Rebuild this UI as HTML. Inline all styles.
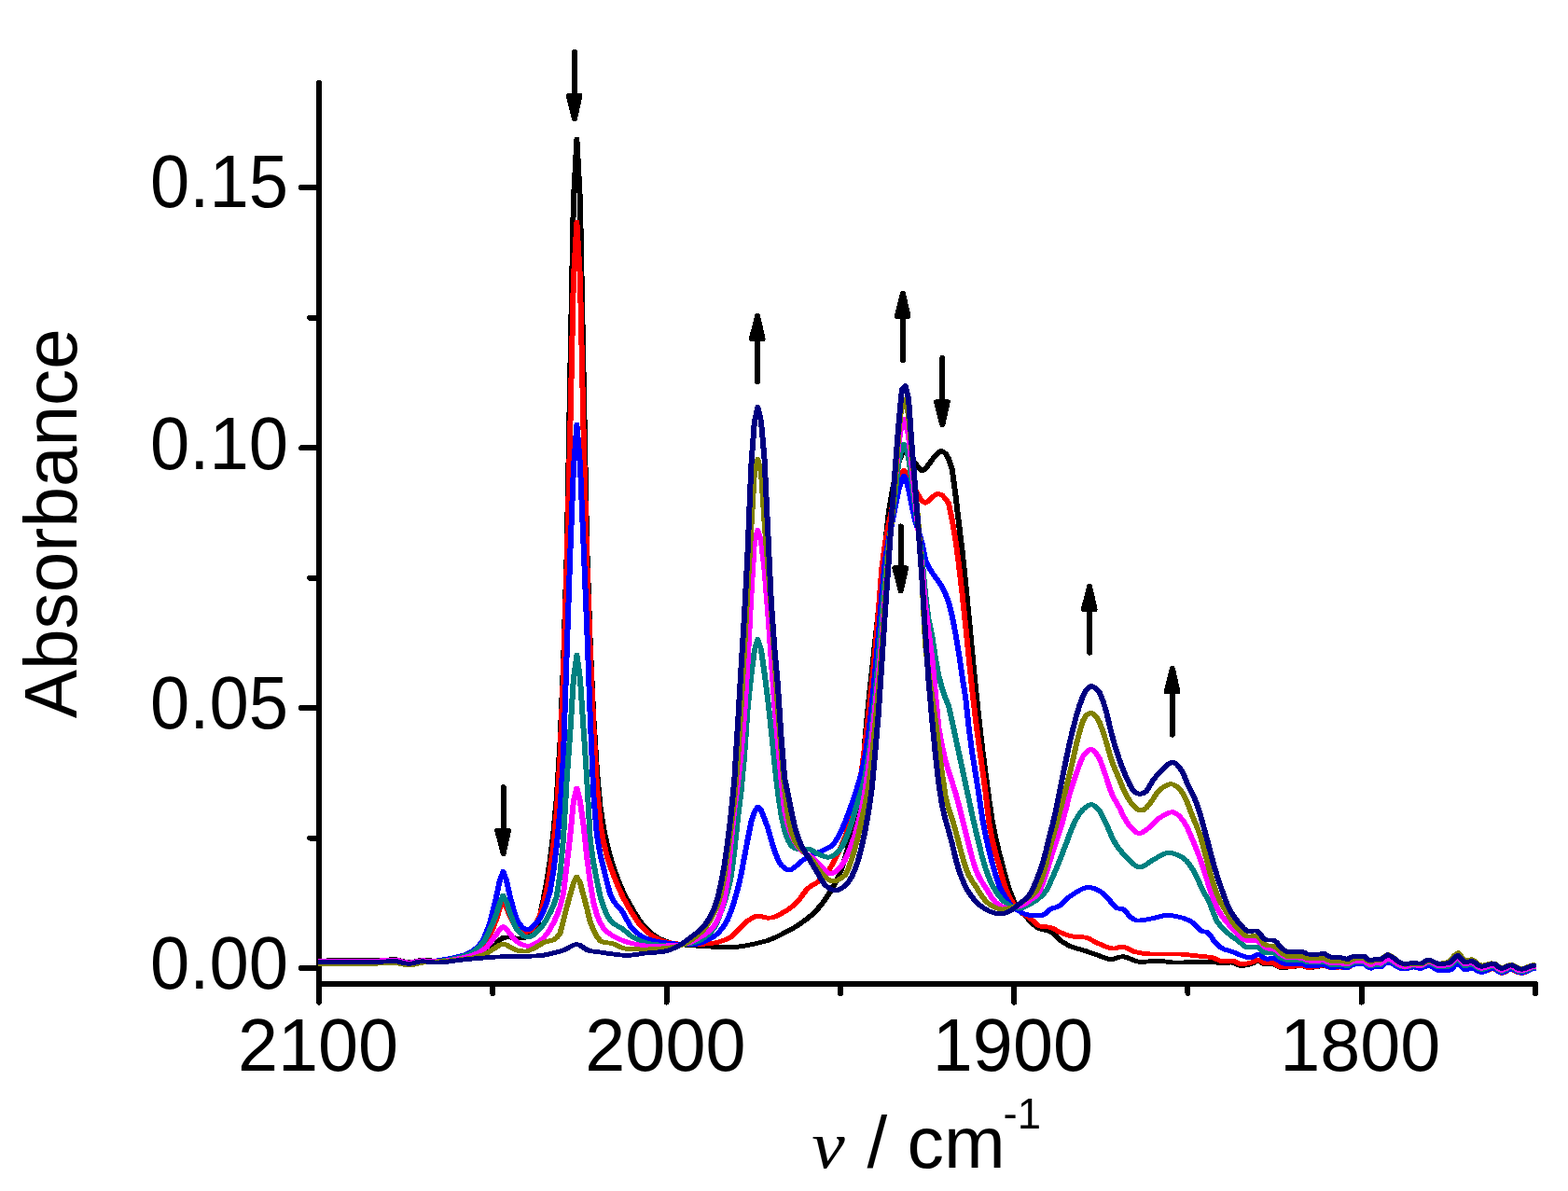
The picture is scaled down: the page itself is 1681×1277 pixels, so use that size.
<!DOCTYPE html>
<html lang="en"><head><meta charset="utf-8"><title>IR spectra</title>
<style>
html,body{margin:0;padding:0;background:#fff;}
svg{display:block;}
text{font-family:"Liberation Sans",Arial,Helvetica,sans-serif;fill:#000;}
.nu{font-family:"Liberation Serif","Times New Roman",serif;font-style:italic;}
</style></head>
<body>
<svg width="1681" height="1277" viewBox="0 0 1681 1277" shape-rendering="crispEdges">
<rect width="1681" height="1277" fill="#fff"/>
<g stroke="#000" stroke-width="6" stroke-linecap="round" fill="none">
<line x1="342" y1="89" x2="342" y2="1074.6"/>
<line x1="342" y1="1055" x2="1646" y2="1055"/>
<line x1="323" y1="1038" x2="342" y2="1038"/>
<line x1="323" y1="759" x2="342" y2="759"/>
<line x1="323" y1="480.4" x2="342" y2="480.4"/>
<line x1="323" y1="201.2" x2="342" y2="201.2"/>
<line x1="332.3" y1="898.5" x2="342" y2="898.5"/>
<line x1="332.3" y1="619.7" x2="342" y2="619.7"/>
<line x1="332.3" y1="340.8" x2="342" y2="340.8"/>
<line x1="714.6" y1="1055" x2="714.6" y2="1074.6"/>
<line x1="1087.1" y1="1055" x2="1087.1" y2="1074.6"/>
<line x1="1459.7" y1="1055" x2="1459.7" y2="1074.6"/>
<line x1="528.3" y1="1055" x2="528.3" y2="1065"/>
<line x1="900.9" y1="1055" x2="900.9" y2="1065"/>
<line x1="1273.4" y1="1055" x2="1273.4" y2="1065"/>
<line x1="1646" y1="1055" x2="1646" y2="1065"/>
</g>
<g fill="none" stroke-width="4.7" stroke-linejoin="round" stroke-linecap="butt">
<g stroke="#000000"><path d="M341.4,1029.9 L344.7,1029.9 L348.3,1029.9 L351.9,1029.8 L355.5,1029.8 L359.1,1029.8 L362.7,1029.8 L366.3,1029.8 L369.9,1029.7 L373.5,1029.7 L377.1,1029.7 L380.6,1029.7 L384.2,1029.7 L387.8,1029.7 L391.4,1029.7 L395.0,1029.7 L398.6,1029.6 L402.2,1029.6 L405.8,1029.6 L409.4,1029.6 L413.0,1029.3 L416.6,1028.9 L420.2,1028.6 L423.8,1028.8 L427.3,1029.6 L430.9,1030.6 L434.5,1031.5 L438.1,1031.9 L441.7,1031.5 L445.3,1030.6 L448.9,1029.8 L452.5,1029.5 L456.1,1029.6 L459.7,1029.8 L463.3,1029.9 L466.9,1030.0 L470.5,1030.0 L474.1,1029.8 L477.6,1029.6 L481.2,1029.3 L484.8,1028.9 L488.4,1028.5 L492.0,1028.0 L495.6,1027.5 L499.2,1027.0 L502.8,1026.4 L506.4,1025.6 L510.0,1024.5 L513.6,1023.3 L517.2,1021.9 L520.8,1020.3 L524.3,1017.9 L527.9,1015.1 L531.5,1011.9 L535.1,1007.8 L538.7,1005.5 L542.3,1005.1 L545.9,1005.0 L549.5,1005.6 L553.1,1006.0 L556.7,1006.0 L560.3,1005.9 L563.9,1004.4 L567.5,1001.9 L571.0,999.1 L574.6,994.5 L578.2,982.8 L581.8,965.2 L585.4,946.2 L589.0,923.1 L592.6,894.0 L596.2,854.9 L599.8,797.6 L603.4,711.8 L607.0,595.4 L610.6,402.0 L614.2,215.8 L617.8,149.0 L621.3,215.8 L624.9,400.7 L628.5,585.2 L632.1,690.9 L635.7,770.3 L639.3,826.9 L642.9,865.3 L646.5,888.4 L650.1,905.4 L653.7,919.2 L657.3,930.7 L660.9,940.7 L664.5,949.8 L668.0,957.6 L671.6,964.6 L675.2,971.0 L678.8,977.1 L682.4,983.0 L686.0,988.5 L689.6,993.0 L693.2,996.8 L696.8,1000.0 L700.4,1002.8 L704.0,1005.1 L707.6,1006.9 L711.2,1008.5 L714.7,1009.8 L718.3,1010.8 L721.9,1011.5 L725.5,1012.0 L729.1,1012.5 L732.7,1013.0 L736.3,1013.4 L739.9,1013.7 L743.5,1014.0 L747.1,1014.2 L750.7,1014.5 L754.3,1014.7 L757.9,1014.9 L761.4,1015.1 L765.0,1015.3 L768.6,1015.4 L772.2,1015.6 L775.8,1015.7 L779.4,1015.7 L783.0,1015.7 L786.6,1015.5 L790.2,1015.2 L793.8,1014.7 L797.4,1014.2 L801.0,1013.5 L804.6,1012.8 L808.2,1012.0 L811.7,1011.2 L815.3,1010.3 L818.9,1009.4 L822.5,1008.4 L826.1,1007.0 L829.7,1005.5 L833.3,1003.8 L836.9,1002.0 L840.5,1000.1 L844.1,998.3 L847.7,996.3 L851.3,994.2 L854.9,992.0 L858.4,989.6 L862.0,987.1 L865.6,984.3 L869.2,981.3 L872.8,977.9 L876.4,974.1 L880.0,969.8 L883.6,965.0 L887.2,959.7 L890.8,953.8 L894.4,947.2 L898.0,940.1 L901.6,931.8 L905.1,921.0 L908.7,908.0 L912.3,894.3 L915.9,879.4 L919.5,864.0 L923.1,841.1 L926.7,793.9 L930.3,755.0 L933.9,721.6 L937.5,688.8 L941.1,655.4 L944.7,621.7 L948.3,584.4 L951.9,551.8 L955.4,529.3 L959.0,511.4 L962.6,496.5 L966.2,486.4 L968.4,483.5 L969.8,484.6 L973.4,489.1 L977.0,492.9 L980.6,496.8 L984.2,501.8 L987.8,505.0 L991.4,502.9 L995.0,498.0 L998.6,492.9 L1002.1,488.8 L1005.7,484.8 L1008.6,483.5 L1012.9,486.2 L1016.5,492.2 L1020.1,503.6 L1023.7,530.1 L1027.3,561.0 L1030.9,590.4 L1034.5,625.2 L1038.1,662.4 L1041.7,700.7 L1045.3,737.9 L1048.8,771.8 L1052.4,802.1 L1056.0,830.2 L1059.6,856.9 L1063.2,881.5 L1066.8,899.2 L1070.4,914.1 L1074.0,927.8 L1077.6,941.4 L1081.2,953.3 L1084.8,962.9 L1088.4,970.4 L1092.0,975.5 L1095.6,979.3 L1099.1,982.7 L1102.7,986.4 L1106.3,990.2 L1109.9,993.5 L1113.5,995.6 L1117.1,996.7 L1120.7,997.4 L1124.3,998.3 L1127.9,1000.4 L1131.5,1004.0 L1135.1,1007.5 L1138.7,1010.1 L1142.3,1012.2 L1145.8,1014.1 L1149.4,1015.6 L1153.0,1016.7 L1156.6,1017.7 L1160.2,1018.7 L1163.8,1019.8 L1167.4,1021.1 L1171.0,1022.4 L1174.6,1023.7 L1178.2,1024.9 L1181.8,1026.3 L1185.4,1027.6 L1189.0,1028.5 L1192.5,1028.4 L1196.1,1027.3 L1199.7,1026.1 L1203.3,1025.7 L1206.9,1026.5 L1210.5,1027.8 L1214.1,1029.3 L1217.7,1030.6 L1221.3,1031.4 L1224.9,1031.3 L1228.5,1031.1 L1232.1,1030.8 L1235.7,1030.5 L1239.3,1030.3 L1242.8,1030.4 L1246.4,1030.7 L1250.0,1031.2 L1253.6,1031.7 L1257.2,1032.0 L1260.8,1032.1 L1264.4,1032.0 L1268.0,1031.9 L1271.6,1031.8 L1275.2,1031.7 L1278.8,1031.6 L1282.4,1031.5 L1286.0,1031.5 L1289.5,1031.5 L1293.1,1031.5 L1296.7,1031.5 L1300.3,1031.5 L1303.9,1032.1 L1307.5,1032.8 L1311.1,1033.0 L1314.7,1032.6 L1318.3,1032.1 L1321.9,1032.2 L1325.5,1034.0 L1329.1,1035.5 L1332.7,1035.3 L1336.2,1034.6 L1339.8,1033.7 L1343.4,1032.4 L1347.0,1030.0 L1350.6,1030.5 L1354.2,1033.8 L1357.8,1033.9 L1361.4,1033.6 L1365.0,1033.5 L1368.6,1036.0 L1372.2,1037.5 L1375.8,1037.4 L1379.4,1037.2 L1383.0,1036.9 L1386.5,1036.4 L1390.1,1035.9 L1393.7,1035.6 L1397.3,1036.1 L1400.9,1037.5 L1404.5,1037.5 L1408.1,1037.1 L1411.7,1036.6 L1415.3,1035.7 L1418.9,1034.8 L1422.5,1036.6 L1426.1,1037.9 L1429.7,1037.5 L1433.2,1037.1 L1436.8,1037.0 L1440.4,1037.4 L1444.0,1037.8 L1447.6,1035.3 L1451.2,1033.9 L1454.8,1033.5 L1458.4,1033.3 L1462.0,1033.2 L1465.6,1036.4 L1469.2,1037.7 L1472.8,1036.1 L1476.4,1036.0 L1479.9,1036.2 L1483.5,1033.0 L1487.1,1030.8 L1490.7,1032.1 L1494.3,1034.0 L1497.9,1036.5 L1501.5,1038.0 L1505.1,1038.5 L1508.7,1038.2 L1512.3,1036.9 L1515.9,1036.7 L1519.5,1037.6 L1523.1,1037.6 L1526.7,1035.9 L1530.2,1034.4 L1533.8,1035.2 L1537.4,1037.5 L1541.0,1039.3 L1544.6,1039.5 L1548.2,1039.4 L1551.8,1039.4 L1555.4,1037.9 L1559.0,1033.8 L1562.6,1031.7 L1566.2,1035.5 L1569.8,1038.9 L1573.4,1038.0 L1576.9,1036.9 L1580.5,1038.2 L1584.1,1041.0 L1587.7,1042.2 L1591.3,1041.2 L1594.9,1039.6 L1598.5,1038.4 L1602.1,1038.7 L1605.7,1041.5 L1609.3,1043.1 L1612.9,1041.7 L1616.5,1039.6 L1620.1,1038.9 L1623.6,1040.4 L1627.2,1042.4 L1630.8,1043.0 L1634.4,1042.0 L1638.0,1040.3 L1641.6,1038.7 L1645.3,1038.0"/><path d="M342.6,1029.9 L346.0,1029.9 L349.6,1029.9 L353.2,1029.8 L356.8,1029.8 L360.4,1029.8 L364.0,1029.8 L367.6,1029.8 L371.2,1029.7 L374.8,1029.7 L378.4,1029.7 L381.9,1029.7 L385.5,1029.7 L389.1,1029.7 L392.7,1029.7 L396.3,1029.7 L399.9,1029.6 L403.5,1029.6 L407.1,1029.6 L410.7,1029.6 L414.3,1029.3 L417.9,1028.9 L421.5,1028.6 L425.1,1028.8 L428.6,1029.6 L432.2,1030.6 L435.8,1031.5 L439.4,1031.9 L443.0,1031.5 L446.6,1030.6 L450.2,1029.8 L453.8,1029.5 L457.4,1029.6 L461.0,1029.8 L464.6,1029.9 L468.2,1030.0 L471.8,1030.0 L475.3,1029.8 L478.9,1029.6 L482.5,1029.3 L486.1,1028.9 L489.7,1028.5 L493.3,1028.0 L496.9,1027.5 L500.5,1027.0 L504.1,1026.4 L507.7,1025.6 L511.3,1024.5 L514.9,1023.3 L518.5,1021.9 L522.1,1020.3 L525.6,1017.9 L529.2,1015.1 L532.8,1011.9 L536.4,1007.8 L540.0,1005.5 L543.6,1005.1 L547.2,1005.0 L550.8,1005.6 L554.4,1006.0 L558.0,1006.0 L561.6,1005.9 L565.2,1004.4 L568.8,1001.9 L572.3,999.1 L575.9,994.5 L579.5,982.8 L583.1,965.2 L586.7,946.2 L590.3,923.1 L593.9,894.0 L597.5,854.9 L601.1,797.6 L604.7,711.8 L608.3,595.4 L611.9,402.0 L615.5,215.8 L619.0,149.0 L622.6,215.8 L626.2,400.7 L629.8,585.2 L633.4,690.9 L637.0,770.3 L640.6,826.9 L644.2,865.3 L647.8,888.4 L651.4,905.4 L655.0,919.2 L658.6,930.7 L662.2,940.7 L665.8,949.8 L669.3,957.6 L672.9,964.6 L676.5,971.0 L680.1,977.1 L683.7,983.0 L687.3,988.5 L690.9,993.0 L694.5,996.8 L698.1,1000.0 L701.7,1002.8 L705.3,1005.1 L708.9,1006.9 L712.5,1008.5 L716.0,1009.8 L719.6,1010.8 L723.2,1011.5 L726.8,1012.0 L730.4,1012.5 L734.0,1013.0 L737.6,1013.4 L741.2,1013.7 L744.8,1014.0 L748.4,1014.2 L752.0,1014.5 L755.6,1014.7 L759.2,1014.9 L762.7,1015.1 L766.3,1015.3 L769.9,1015.4 L773.5,1015.6 L777.1,1015.7 L780.7,1015.7 L784.3,1015.7 L787.9,1015.5 L791.5,1015.2 L795.1,1014.7 L798.7,1014.2 L802.3,1013.5 L805.9,1012.8 L809.5,1012.0 L813.0,1011.2 L816.6,1010.3 L820.2,1009.4 L823.8,1008.4 L827.4,1007.0 L831.0,1005.5 L834.6,1003.8 L838.2,1002.0 L841.8,1000.1 L845.4,998.3 L849.0,996.3 L852.6,994.2 L856.2,992.0 L859.7,989.6 L863.3,987.1 L866.9,984.3 L870.5,981.3 L874.1,977.9 L877.7,974.1 L881.3,969.8 L884.9,965.0 L888.5,959.7 L892.1,953.8 L895.7,947.2 L899.3,940.1 L902.9,931.8 L906.4,921.0 L910.0,908.0 L913.6,894.3 L917.2,879.4 L920.8,864.0 L924.4,841.1 L928.0,793.9 L931.6,755.0 L935.2,721.6 L938.8,688.8 L942.4,655.4 L946.0,621.7 L949.6,584.4 L953.2,551.8 L956.7,529.3 L960.3,511.4 L963.9,496.5 L967.5,486.4 L969.6,483.5 L971.1,484.6 L974.7,489.1 L978.3,492.9 L981.9,496.8 L985.5,501.8 L989.1,505.0 L992.7,502.9 L996.3,498.0 L999.9,492.9 L1003.4,488.8 L1007.0,484.8 L1009.9,483.5 L1014.2,486.2 L1017.8,492.2 L1021.4,503.6 L1025.0,530.1 L1028.6,561.0 L1032.2,590.4 L1035.8,625.2 L1039.4,662.4 L1043.0,700.7 L1046.6,737.9 L1050.2,771.8 L1053.7,802.1 L1057.3,830.2 L1060.9,856.9 L1064.5,881.5 L1068.1,899.2 L1071.7,914.1 L1075.3,927.8 L1078.9,941.4 L1082.5,953.3 L1086.1,962.9 L1089.7,970.4 L1093.3,975.5 L1096.9,979.3 L1100.4,982.7 L1104.0,986.4 L1107.6,990.2 L1111.2,993.5 L1114.8,995.6 L1118.4,996.7 L1122.0,997.4 L1125.6,998.3 L1129.2,1000.4 L1132.8,1004.0 L1136.4,1007.5 L1140.0,1010.1 L1143.6,1012.2 L1147.1,1014.1 L1150.7,1015.6 L1154.3,1016.7 L1157.9,1017.7 L1161.5,1018.7 L1165.1,1019.8 L1168.7,1021.1 L1172.3,1022.4 L1175.9,1023.7 L1179.5,1024.9 L1183.1,1026.3 L1186.7,1027.6 L1190.3,1028.5 L1193.8,1028.4 L1197.4,1027.3 L1201.0,1026.1 L1204.6,1025.7 L1208.2,1026.5 L1211.8,1027.8 L1215.4,1029.3 L1219.0,1030.6 L1222.6,1031.4 L1226.2,1031.3 L1229.8,1031.1 L1233.4,1030.8 L1237.0,1030.5 L1240.6,1030.3 L1244.1,1030.4 L1247.7,1030.7 L1251.3,1031.2 L1254.9,1031.7 L1258.5,1032.0 L1262.1,1032.1 L1265.7,1032.0 L1269.3,1031.9 L1272.9,1031.8 L1276.5,1031.7 L1280.1,1031.6 L1283.7,1031.5 L1287.3,1031.5 L1290.8,1031.5 L1294.4,1031.5 L1298.0,1031.5 L1301.6,1031.5 L1305.2,1032.1 L1308.8,1032.8 L1312.4,1033.0 L1316.0,1032.6 L1319.6,1032.1 L1323.2,1032.2 L1326.8,1034.0 L1330.4,1035.5 L1334.0,1035.3 L1337.6,1034.6 L1341.1,1033.7 L1344.7,1032.4 L1348.3,1030.0 L1351.9,1030.5 L1355.5,1033.8 L1359.1,1033.9 L1362.7,1033.6 L1366.3,1033.5 L1369.9,1036.0 L1373.5,1037.5 L1377.1,1037.4 L1380.7,1037.2 L1384.3,1036.9 L1387.8,1036.4 L1391.4,1035.9 L1395.0,1035.6 L1398.6,1036.1 L1402.2,1037.5 L1405.8,1037.5 L1409.4,1037.1 L1413.0,1036.6 L1416.6,1035.7 L1420.2,1034.8 L1423.8,1036.6 L1427.4,1037.9 L1431.0,1037.5 L1434.5,1037.1 L1438.1,1037.0 L1441.7,1037.4 L1445.3,1037.8 L1448.9,1035.3 L1452.5,1033.9 L1456.1,1033.5 L1459.7,1033.3 L1463.3,1033.2 L1466.9,1036.4 L1470.5,1037.7 L1474.1,1036.1 L1477.7,1036.0 L1481.2,1036.2 L1484.8,1033.0 L1488.4,1030.8 L1492.0,1032.1 L1495.6,1034.0 L1499.2,1036.5 L1502.8,1038.0 L1506.4,1038.5 L1510.0,1038.2 L1513.6,1036.9 L1517.2,1036.7 L1520.8,1037.6 L1524.4,1037.6 L1528.0,1035.9 L1531.5,1034.4 L1535.1,1035.2 L1538.7,1037.5 L1542.3,1039.3 L1545.9,1039.5 L1549.5,1039.4 L1553.1,1039.4 L1556.7,1037.9 L1560.3,1033.8 L1563.9,1031.7 L1567.5,1035.5 L1571.1,1038.9 L1574.7,1038.0 L1578.2,1036.9 L1581.8,1038.2 L1585.4,1041.0 L1589.0,1042.2 L1592.6,1041.2 L1596.2,1039.6 L1599.8,1038.4 L1603.4,1038.7 L1607.0,1041.5 L1610.6,1043.1 L1614.2,1041.7 L1617.8,1039.6 L1621.4,1038.9 L1625.0,1040.4 L1628.5,1042.4 L1632.1,1043.0 L1635.7,1042.0 L1639.3,1040.3 L1642.9,1038.7 L1646.7,1038.0"/></g>
<g stroke="#ff0000"><path d="M341.4,1033.2 L344.7,1033.2 L348.3,1033.2 L351.9,1033.2 L355.5,1033.2 L359.1,1033.1 L362.7,1033.1 L366.3,1033.1 L369.9,1033.1 L373.5,1033.0 L377.1,1033.0 L380.6,1033.0 L384.2,1033.0 L387.8,1032.9 L391.4,1032.9 L395.0,1032.8 L398.6,1032.8 L402.2,1032.7 L405.8,1032.6 L409.4,1032.5 L413.0,1032.4 L416.6,1032.1 L420.2,1031.9 L423.8,1032.1 L427.3,1032.7 L430.9,1033.5 L434.5,1034.2 L438.1,1034.5 L441.7,1034.1 L445.3,1033.2 L448.9,1032.3 L452.5,1031.7 L456.1,1031.4 L459.7,1031.1 L463.3,1030.9 L466.9,1030.6 L470.5,1030.2 L474.1,1029.7 L477.6,1029.3 L481.2,1028.8 L484.8,1028.2 L488.4,1027.6 L492.0,1026.8 L495.6,1026.0 L499.2,1025.0 L502.8,1023.8 L506.4,1022.1 L510.0,1020.0 L513.6,1017.3 L517.2,1014.2 L520.8,1010.2 L524.3,1003.5 L527.9,995.2 L531.5,985.8 L535.1,974.0 L538.8,968.0 L542.3,972.9 L545.9,982.1 L549.5,988.6 L553.1,993.9 L556.7,996.8 L560.3,998.5 L563.9,999.3 L567.5,998.1 L571.0,994.5 L574.6,989.6 L578.2,981.7 L581.8,969.9 L585.4,955.3 L589.0,934.6 L592.6,907.1 L596.2,869.3 L599.8,812.6 L603.4,721.3 L607.0,606.0 L610.6,463.2 L614.2,298.8 L617.8,238.0 L621.3,298.8 L624.9,462.3 L628.5,599.3 L632.1,698.0 L635.7,778.8 L639.3,842.1 L642.9,883.6 L646.5,903.2 L650.1,917.8 L653.7,929.1 L657.3,938.6 L660.9,947.9 L664.5,956.2 L668.0,963.4 L671.6,970.0 L675.2,976.2 L678.8,982.1 L682.4,987.6 L686.0,992.3 L689.6,996.1 L693.2,999.4 L696.8,1002.3 L700.4,1004.7 L704.0,1006.5 L707.6,1008.0 L711.2,1009.2 L714.7,1010.2 L718.3,1010.8 L721.9,1011.4 L725.5,1011.9 L729.1,1012.4 L732.7,1012.7 L736.3,1012.9 L739.9,1013.0 L743.5,1012.9 L747.1,1012.8 L750.7,1012.5 L754.3,1012.2 L757.9,1011.9 L761.4,1011.5 L765.0,1011.0 L768.6,1010.3 L772.2,1009.3 L775.8,1008.0 L779.4,1006.5 L783.0,1004.7 L786.6,1001.5 L790.2,997.7 L793.8,993.9 L797.4,990.3 L801.0,987.2 L804.6,985.0 L808.2,983.0 L811.7,982.1 L815.3,982.6 L818.9,983.5 L822.5,984.2 L826.1,984.1 L829.7,983.1 L833.3,981.5 L836.9,979.6 L840.5,977.4 L844.1,975.3 L847.7,972.6 L851.3,969.5 L854.9,966.0 L858.4,961.8 L862.0,956.5 L865.6,952.4 L869.2,949.8 L872.8,947.8 L876.4,945.5 L880.0,942.4 L883.6,938.6 L887.2,934.0 L890.8,928.3 L894.4,921.3 L898.0,914.1 L901.6,906.8 L905.1,898.3 L908.7,887.5 L912.3,874.8 L915.9,861.8 L919.5,847.4 L923.1,826.7 L926.7,798.2 L930.3,767.6 L933.9,735.0 L937.5,699.2 L941.1,655.6 L944.7,609.8 L948.3,582.6 L951.9,563.0 L955.4,546.7 L959.0,532.1 L962.6,519.5 L966.2,508.2 L968.4,504.0 L969.8,505.9 L973.4,513.6 L977.0,519.7 L980.6,525.4 L984.2,531.7 L987.8,537.4 L991.4,539.2 L995.0,537.2 L998.6,533.6 L1002.1,530.4 L1005.1,529.3 L1009.3,530.9 L1012.9,534.6 L1016.5,540.1 L1020.1,557.7 L1023.7,578.6 L1027.3,605.6 L1030.9,636.7 L1034.5,670.8 L1038.1,706.0 L1041.7,740.4 L1045.3,771.7 L1048.8,798.5 L1052.4,823.4 L1056.0,850.0 L1059.6,881.8 L1063.2,900.9 L1066.8,915.2 L1070.4,927.7 L1074.0,941.2 L1077.6,952.9 L1081.2,961.2 L1084.8,967.8 L1088.4,972.9 L1092.0,976.5 L1095.6,979.3 L1099.1,981.7 L1102.7,984.0 L1106.3,986.8 L1109.9,990.5 L1113.5,992.9 L1117.1,993.4 L1120.7,993.7 L1124.3,994.2 L1127.9,995.3 L1131.5,997.3 L1135.1,999.4 L1138.7,1000.8 L1142.3,1002.2 L1145.8,1003.3 L1149.4,1004.1 L1153.0,1004.5 L1156.6,1004.6 L1160.2,1004.8 L1163.8,1005.3 L1167.4,1006.7 L1171.0,1008.6 L1174.6,1010.6 L1178.2,1012.1 L1181.8,1013.7 L1185.4,1015.2 L1189.0,1016.4 L1192.5,1017.1 L1196.1,1016.7 L1199.7,1015.4 L1203.3,1015.1 L1206.9,1016.2 L1210.5,1018.1 L1214.1,1020.0 L1217.7,1020.9 L1221.3,1021.6 L1224.9,1022.2 L1228.5,1022.6 L1232.1,1022.9 L1235.7,1022.9 L1239.3,1022.9 L1242.8,1022.9 L1246.4,1022.9 L1250.0,1022.9 L1253.6,1022.9 L1257.2,1022.9 L1260.8,1022.9 L1264.4,1023.0 L1268.0,1023.3 L1271.6,1023.6 L1275.2,1024.0 L1278.8,1024.4 L1282.4,1024.8 L1286.0,1025.2 L1289.5,1025.5 L1293.1,1025.9 L1296.7,1026.4 L1300.3,1027.1 L1303.9,1028.7 L1307.5,1030.2 L1311.1,1030.7 L1314.7,1030.5 L1318.3,1030.2 L1321.9,1030.3 L1325.5,1032.3 L1329.1,1033.9 L1332.7,1033.7 L1336.2,1033.1 L1339.8,1032.3 L1343.4,1031.2 L1347.0,1028.9 L1350.6,1029.5 L1354.2,1032.6 L1357.8,1032.8 L1361.4,1032.8 L1365.0,1032.8 L1368.6,1035.4 L1372.2,1037.0 L1375.8,1037.0 L1379.4,1036.9 L1383.0,1036.6 L1386.5,1036.1 L1390.1,1035.6 L1393.7,1035.3 L1397.3,1035.8 L1400.9,1037.3 L1404.5,1037.3 L1408.1,1036.9 L1411.7,1036.4 L1415.3,1035.5 L1418.9,1034.6 L1422.5,1036.5 L1426.1,1037.8 L1429.7,1037.5 L1433.2,1037.2 L1436.8,1037.1 L1440.4,1037.5 L1444.0,1038.0 L1447.6,1035.5 L1451.2,1034.1 L1454.8,1033.8 L1458.4,1033.6 L1462.0,1033.5 L1465.6,1036.7 L1469.2,1038.1 L1472.8,1036.6 L1476.4,1036.4 L1479.9,1036.7 L1483.5,1033.5 L1487.1,1031.3 L1490.7,1032.6 L1494.3,1034.4 L1497.9,1036.9 L1501.5,1038.3 L1505.1,1038.8 L1508.7,1038.4 L1512.3,1037.1 L1515.9,1037.0 L1519.5,1037.9 L1523.1,1038.0 L1526.7,1036.3 L1530.2,1034.9 L1533.8,1035.7 L1537.4,1038.0 L1541.0,1039.8 L1544.6,1040.0 L1548.2,1039.9 L1551.8,1039.9 L1555.4,1038.4 L1559.0,1034.3 L1562.6,1032.2 L1566.2,1036.0 L1569.8,1039.4 L1573.4,1038.5 L1576.9,1037.4 L1580.5,1038.7 L1584.1,1041.5 L1587.7,1042.7 L1591.3,1041.7 L1594.9,1040.1 L1598.5,1038.9 L1602.1,1039.2 L1605.7,1042.0 L1609.3,1043.6 L1612.9,1042.2 L1616.5,1040.1 L1620.1,1039.4 L1623.6,1040.9 L1627.2,1042.9 L1630.8,1043.5 L1634.4,1042.5 L1638.0,1040.8 L1641.6,1039.2 L1645.3,1038.5"/><path d="M342.6,1033.2 L346.0,1033.2 L349.6,1033.2 L353.2,1033.2 L356.8,1033.2 L360.4,1033.1 L364.0,1033.1 L367.6,1033.1 L371.2,1033.1 L374.8,1033.0 L378.4,1033.0 L381.9,1033.0 L385.5,1033.0 L389.1,1032.9 L392.7,1032.9 L396.3,1032.8 L399.9,1032.8 L403.5,1032.7 L407.1,1032.6 L410.7,1032.5 L414.3,1032.4 L417.9,1032.1 L421.5,1031.9 L425.1,1032.1 L428.6,1032.7 L432.2,1033.5 L435.8,1034.2 L439.4,1034.5 L443.0,1034.1 L446.6,1033.2 L450.2,1032.3 L453.8,1031.7 L457.4,1031.4 L461.0,1031.1 L464.6,1030.9 L468.2,1030.6 L471.8,1030.2 L475.3,1029.7 L478.9,1029.3 L482.5,1028.8 L486.1,1028.2 L489.7,1027.6 L493.3,1026.8 L496.9,1026.0 L500.5,1025.0 L504.1,1023.8 L507.7,1022.1 L511.3,1020.0 L514.9,1017.3 L518.5,1014.2 L522.1,1010.2 L525.6,1003.5 L529.2,995.2 L532.8,985.8 L536.4,974.0 L540.0,968.0 L543.6,972.9 L547.2,982.1 L550.8,988.6 L554.4,993.9 L558.0,996.8 L561.6,998.5 L565.2,999.3 L568.8,998.1 L572.3,994.5 L575.9,989.6 L579.5,981.7 L583.1,969.9 L586.7,955.3 L590.3,934.6 L593.9,907.1 L597.5,869.3 L601.1,812.6 L604.7,721.3 L608.3,606.0 L611.9,463.2 L615.5,298.8 L619.0,238.0 L622.6,298.8 L626.2,462.3 L629.8,599.3 L633.4,698.0 L637.0,778.8 L640.6,842.1 L644.2,883.6 L647.8,903.2 L651.4,917.8 L655.0,929.1 L658.6,938.6 L662.2,947.9 L665.8,956.2 L669.3,963.4 L672.9,970.0 L676.5,976.2 L680.1,982.1 L683.7,987.6 L687.3,992.3 L690.9,996.1 L694.5,999.4 L698.1,1002.3 L701.7,1004.7 L705.3,1006.5 L708.9,1008.0 L712.5,1009.2 L716.0,1010.2 L719.6,1010.8 L723.2,1011.4 L726.8,1011.9 L730.4,1012.4 L734.0,1012.7 L737.6,1012.9 L741.2,1013.0 L744.8,1012.9 L748.4,1012.8 L752.0,1012.5 L755.6,1012.2 L759.2,1011.9 L762.7,1011.5 L766.3,1011.0 L769.9,1010.3 L773.5,1009.3 L777.1,1008.0 L780.7,1006.5 L784.3,1004.7 L787.9,1001.5 L791.5,997.7 L795.1,993.9 L798.7,990.3 L802.3,987.2 L805.9,985.0 L809.5,983.0 L813.0,982.1 L816.6,982.6 L820.2,983.5 L823.8,984.2 L827.4,984.1 L831.0,983.1 L834.6,981.5 L838.2,979.6 L841.8,977.4 L845.4,975.3 L849.0,972.6 L852.6,969.5 L856.2,966.0 L859.7,961.8 L863.3,956.5 L866.9,952.4 L870.5,949.8 L874.1,947.8 L877.7,945.5 L881.3,942.4 L884.9,938.6 L888.5,934.0 L892.1,928.3 L895.7,921.3 L899.3,914.1 L902.9,906.8 L906.4,898.3 L910.0,887.5 L913.6,874.8 L917.2,861.8 L920.8,847.4 L924.4,826.7 L928.0,798.2 L931.6,767.6 L935.2,735.0 L938.8,699.2 L942.4,655.6 L946.0,609.8 L949.6,582.6 L953.2,563.0 L956.7,546.7 L960.3,532.1 L963.9,519.5 L967.5,508.2 L969.6,504.0 L971.1,505.9 L974.7,513.6 L978.3,519.7 L981.9,525.4 L985.5,531.7 L989.1,537.4 L992.7,539.2 L996.3,537.2 L999.9,533.6 L1003.4,530.4 L1006.4,529.3 L1010.6,530.9 L1014.2,534.6 L1017.8,540.1 L1021.4,557.7 L1025.0,578.6 L1028.6,605.6 L1032.2,636.7 L1035.8,670.8 L1039.4,706.0 L1043.0,740.4 L1046.6,771.7 L1050.2,798.5 L1053.7,823.4 L1057.3,850.0 L1060.9,881.8 L1064.5,900.9 L1068.1,915.2 L1071.7,927.7 L1075.3,941.2 L1078.9,952.9 L1082.5,961.2 L1086.1,967.8 L1089.7,972.9 L1093.3,976.5 L1096.9,979.3 L1100.4,981.7 L1104.0,984.0 L1107.6,986.8 L1111.2,990.5 L1114.8,992.9 L1118.4,993.4 L1122.0,993.7 L1125.6,994.2 L1129.2,995.3 L1132.8,997.3 L1136.4,999.4 L1140.0,1000.8 L1143.6,1002.2 L1147.1,1003.3 L1150.7,1004.1 L1154.3,1004.5 L1157.9,1004.6 L1161.5,1004.8 L1165.1,1005.3 L1168.7,1006.7 L1172.3,1008.6 L1175.9,1010.6 L1179.5,1012.1 L1183.1,1013.7 L1186.7,1015.2 L1190.3,1016.4 L1193.8,1017.1 L1197.4,1016.7 L1201.0,1015.4 L1204.6,1015.1 L1208.2,1016.2 L1211.8,1018.1 L1215.4,1020.0 L1219.0,1020.9 L1222.6,1021.6 L1226.2,1022.2 L1229.8,1022.6 L1233.4,1022.9 L1237.0,1022.9 L1240.6,1022.9 L1244.1,1022.9 L1247.7,1022.9 L1251.3,1022.9 L1254.9,1022.9 L1258.5,1022.9 L1262.1,1022.9 L1265.7,1023.0 L1269.3,1023.3 L1272.9,1023.6 L1276.5,1024.0 L1280.1,1024.4 L1283.7,1024.8 L1287.3,1025.2 L1290.8,1025.5 L1294.4,1025.9 L1298.0,1026.4 L1301.6,1027.1 L1305.2,1028.7 L1308.8,1030.2 L1312.4,1030.7 L1316.0,1030.5 L1319.6,1030.2 L1323.2,1030.3 L1326.8,1032.3 L1330.4,1033.9 L1334.0,1033.7 L1337.6,1033.1 L1341.1,1032.3 L1344.7,1031.2 L1348.3,1028.9 L1351.9,1029.5 L1355.5,1032.6 L1359.1,1032.8 L1362.7,1032.8 L1366.3,1032.8 L1369.9,1035.4 L1373.5,1037.0 L1377.1,1037.0 L1380.7,1036.9 L1384.3,1036.6 L1387.8,1036.1 L1391.4,1035.6 L1395.0,1035.3 L1398.6,1035.8 L1402.2,1037.3 L1405.8,1037.3 L1409.4,1036.9 L1413.0,1036.4 L1416.6,1035.5 L1420.2,1034.6 L1423.8,1036.5 L1427.4,1037.8 L1431.0,1037.5 L1434.5,1037.2 L1438.1,1037.1 L1441.7,1037.5 L1445.3,1038.0 L1448.9,1035.5 L1452.5,1034.1 L1456.1,1033.8 L1459.7,1033.6 L1463.3,1033.5 L1466.9,1036.7 L1470.5,1038.1 L1474.1,1036.6 L1477.7,1036.4 L1481.2,1036.7 L1484.8,1033.5 L1488.4,1031.3 L1492.0,1032.6 L1495.6,1034.4 L1499.2,1036.9 L1502.8,1038.3 L1506.4,1038.8 L1510.0,1038.4 L1513.6,1037.1 L1517.2,1037.0 L1520.8,1037.9 L1524.4,1038.0 L1528.0,1036.3 L1531.5,1034.9 L1535.1,1035.7 L1538.7,1038.0 L1542.3,1039.8 L1545.9,1040.0 L1549.5,1039.9 L1553.1,1039.9 L1556.7,1038.4 L1560.3,1034.3 L1563.9,1032.2 L1567.5,1036.0 L1571.1,1039.4 L1574.7,1038.5 L1578.2,1037.4 L1581.8,1038.7 L1585.4,1041.5 L1589.0,1042.7 L1592.6,1041.7 L1596.2,1040.1 L1599.8,1038.9 L1603.4,1039.2 L1607.0,1042.0 L1610.6,1043.6 L1614.2,1042.2 L1617.8,1040.1 L1621.4,1039.4 L1625.0,1040.9 L1628.5,1042.9 L1632.1,1043.5 L1635.7,1042.5 L1639.3,1040.8 L1642.9,1039.2 L1646.7,1038.5"/></g>
<g stroke="#0000ff"><path d="M341.4,1033.5 L344.7,1033.5 L348.3,1033.5 L351.9,1033.5 L355.5,1033.5 L359.1,1033.4 L362.7,1033.4 L366.3,1033.4 L369.9,1033.4 L373.5,1033.3 L377.1,1033.3 L380.6,1033.3 L384.2,1033.3 L387.8,1033.2 L391.4,1033.2 L395.0,1033.1 L398.6,1033.1 L402.2,1033.0 L405.8,1032.9 L409.4,1032.8 L413.0,1032.6 L416.6,1032.4 L420.2,1032.2 L423.8,1032.4 L427.3,1033.0 L430.9,1033.8 L434.5,1034.4 L438.1,1034.7 L441.7,1034.4 L445.3,1033.5 L448.9,1032.6 L452.5,1031.9 L456.1,1031.4 L459.7,1031.0 L463.3,1030.6 L466.9,1030.1 L470.5,1029.5 L474.1,1028.9 L477.6,1028.4 L481.2,1027.7 L484.8,1027.0 L488.4,1026.2 L492.0,1025.3 L495.6,1024.3 L499.2,1023.1 L502.8,1021.5 L506.4,1019.3 L510.0,1016.4 L513.6,1012.9 L517.2,1007.8 L520.8,999.8 L524.3,990.0 L527.9,976.5 L531.5,961.3 L535.1,944.4 L538.8,934.5 L542.3,943.9 L545.9,960.4 L549.5,973.8 L553.1,985.5 L556.7,991.2 L560.3,995.1 L563.9,997.0 L567.5,996.1 L571.0,993.3 L574.6,989.7 L578.2,984.7 L581.8,977.6 L585.4,968.1 L589.0,955.8 L592.6,934.9 L596.2,906.4 L599.8,868.3 L603.4,808.9 L607.0,700.5 L610.6,594.9 L614.2,503.5 L617.8,455.0 L621.3,498.7 L624.9,584.1 L628.5,670.8 L632.1,769.3 L635.7,852.9 L639.3,896.0 L642.9,916.3 L646.5,931.0 L650.1,946.2 L653.7,959.6 L657.3,966.6 L660.9,970.8 L664.5,974.5 L668.0,979.7 L671.6,986.6 L675.2,992.9 L678.8,997.0 L682.4,1000.4 L686.0,1003.2 L689.6,1005.2 L693.2,1006.6 L696.8,1007.7 L700.4,1008.6 L704.0,1009.4 L707.6,1010.0 L711.2,1010.6 L714.7,1011.0 L718.3,1011.4 L721.9,1011.8 L725.5,1012.1 L729.1,1012.4 L732.7,1012.7 L736.3,1012.8 L739.9,1012.9 L743.5,1012.7 L747.1,1012.1 L750.7,1011.0 L754.3,1009.6 L757.9,1007.9 L761.4,1006.1 L765.0,1004.0 L768.6,1001.0 L772.2,997.1 L775.8,992.3 L779.4,986.0 L783.0,977.0 L786.6,966.0 L790.2,953.4 L793.8,938.0 L797.4,918.9 L801.0,899.9 L804.6,881.7 L808.2,870.5 L811.8,865.0 L815.3,868.8 L818.9,877.7 L822.5,887.7 L826.1,900.4 L829.7,912.4 L833.3,921.6 L836.9,927.6 L840.5,930.9 L844.1,932.8 L847.7,932.3 L851.3,929.9 L854.9,926.6 L858.4,923.5 L862.0,921.2 L865.6,919.0 L869.2,917.2 L872.8,915.6 L876.4,914.1 L880.0,912.5 L883.6,910.9 L887.2,909.3 L890.8,907.1 L894.4,903.0 L898.0,897.0 L901.6,890.0 L905.1,882.1 L908.7,872.6 L912.3,862.7 L915.9,852.3 L919.5,840.8 L923.1,828.2 L926.7,811.4 L930.3,787.9 L933.9,758.0 L937.5,720.9 L941.1,682.0 L944.7,637.7 L948.3,600.7 L951.9,578.8 L955.4,561.7 L959.0,543.6 L962.6,525.6 L966.2,513.8 L968.4,510.5 L969.8,512.4 L973.4,524.0 L977.0,542.9 L980.6,558.9 L984.2,570.0 L987.8,582.2 L991.4,600.1 L995.0,608.1 L998.6,613.9 L1002.1,618.8 L1005.7,623.6 L1009.3,629.4 L1012.9,636.6 L1016.5,645.9 L1020.1,660.7 L1023.7,679.0 L1027.3,700.3 L1030.9,725.4 L1034.5,747.7 L1038.1,781.0 L1041.7,807.9 L1045.3,830.2 L1048.8,852.1 L1052.4,877.0 L1056.0,895.8 L1059.6,911.7 L1063.2,925.6 L1066.8,938.2 L1070.4,949.2 L1074.0,956.4 L1077.6,962.6 L1081.2,967.9 L1084.8,972.1 L1088.4,975.1 L1092.0,977.1 L1095.6,979.0 L1099.1,980.4 L1102.7,981.2 L1106.3,981.4 L1109.9,981.4 L1113.5,981.4 L1117.1,981.3 L1120.7,979.1 L1124.3,975.7 L1127.9,973.8 L1131.5,972.8 L1135.1,971.4 L1138.7,968.5 L1142.3,964.9 L1145.8,961.5 L1149.4,959.1 L1153.0,956.8 L1156.6,954.6 L1160.2,952.8 L1163.8,951.7 L1167.4,951.4 L1171.0,952.2 L1174.6,953.5 L1178.2,955.2 L1181.8,958.1 L1185.4,961.7 L1189.0,965.4 L1192.5,970.1 L1196.1,973.5 L1199.7,974.3 L1203.3,974.9 L1206.9,978.2 L1210.5,982.7 L1214.1,985.2 L1217.7,986.9 L1221.3,987.0 L1224.9,986.6 L1228.5,986.0 L1232.1,985.3 L1235.7,984.6 L1239.3,983.7 L1242.8,982.7 L1246.4,981.8 L1250.0,981.4 L1253.6,981.5 L1257.2,982.0 L1260.8,982.7 L1264.4,983.5 L1268.0,984.4 L1271.6,985.8 L1275.2,987.5 L1278.8,989.6 L1282.4,993.1 L1286.0,997.4 L1289.5,998.8 L1293.1,999.2 L1296.7,1002.4 L1300.3,1008.1 L1303.9,1012.0 L1307.5,1015.4 L1311.1,1017.7 L1314.7,1018.8 L1318.3,1019.8 L1321.9,1020.9 L1325.5,1022.6 L1329.1,1024.1 L1332.7,1025.3 L1336.2,1026.4 L1339.8,1026.9 L1343.4,1025.6 L1347.0,1023.5 L1350.6,1023.9 L1354.2,1027.0 L1357.8,1028.5 L1361.4,1027.5 L1365.0,1026.9 L1368.6,1029.1 L1372.2,1031.4 L1375.8,1033.0 L1379.4,1033.9 L1383.0,1033.8 L1386.5,1033.6 L1390.1,1033.5 L1393.7,1033.3 L1397.3,1034.0 L1400.9,1035.8 L1404.5,1035.8 L1408.1,1035.7 L1411.7,1035.5 L1415.3,1034.9 L1418.9,1034.2 L1422.5,1036.1 L1426.1,1037.4 L1429.7,1037.2 L1433.2,1036.9 L1436.8,1036.8 L1440.4,1037.3 L1444.0,1037.8 L1447.6,1035.4 L1451.2,1034.1 L1454.8,1033.8 L1458.4,1033.6 L1462.0,1033.6 L1465.6,1036.8 L1469.2,1038.2 L1472.8,1036.7 L1476.4,1036.6 L1479.9,1036.9 L1483.5,1033.7 L1487.1,1031.6 L1490.7,1032.8 L1494.3,1034.6 L1497.9,1037.0 L1501.5,1038.4 L1505.1,1038.9 L1508.7,1038.5 L1512.3,1037.2 L1515.9,1037.1 L1519.5,1038.1 L1523.1,1038.3 L1526.7,1036.7 L1530.2,1035.4 L1533.8,1036.2 L1537.4,1038.6 L1541.0,1040.5 L1544.6,1040.7 L1548.2,1040.7 L1551.8,1040.7 L1555.4,1039.3 L1559.0,1035.2 L1562.6,1033.2 L1566.2,1036.8 L1569.8,1040.1 L1573.4,1039.1 L1576.9,1037.8 L1580.5,1039.0 L1584.1,1041.6 L1587.7,1042.7 L1591.3,1041.6 L1594.9,1039.8 L1598.5,1038.4 L1602.1,1038.7 L1605.7,1041.6 L1609.3,1043.2 L1612.9,1041.9 L1616.5,1039.8 L1620.1,1039.1 L1623.6,1040.6 L1627.2,1042.7 L1630.8,1043.3 L1634.4,1042.3 L1638.0,1040.7 L1641.6,1039.2 L1645.3,1038.5"/><path d="M342.6,1033.5 L346.0,1033.5 L349.6,1033.5 L353.2,1033.5 L356.8,1033.5 L360.4,1033.4 L364.0,1033.4 L367.6,1033.4 L371.2,1033.4 L374.8,1033.3 L378.4,1033.3 L381.9,1033.3 L385.5,1033.3 L389.1,1033.2 L392.7,1033.2 L396.3,1033.1 L399.9,1033.1 L403.5,1033.0 L407.1,1032.9 L410.7,1032.8 L414.3,1032.6 L417.9,1032.4 L421.5,1032.2 L425.1,1032.4 L428.6,1033.0 L432.2,1033.8 L435.8,1034.4 L439.4,1034.7 L443.0,1034.4 L446.6,1033.5 L450.2,1032.6 L453.8,1031.9 L457.4,1031.4 L461.0,1031.0 L464.6,1030.6 L468.2,1030.1 L471.8,1029.5 L475.3,1028.9 L478.9,1028.4 L482.5,1027.7 L486.1,1027.0 L489.7,1026.2 L493.3,1025.3 L496.9,1024.3 L500.5,1023.1 L504.1,1021.5 L507.7,1019.3 L511.3,1016.4 L514.9,1012.9 L518.5,1007.8 L522.1,999.8 L525.6,990.0 L529.2,976.5 L532.8,961.3 L536.4,944.4 L540.0,934.5 L543.6,943.9 L547.2,960.4 L550.8,973.8 L554.4,985.5 L558.0,991.2 L561.6,995.1 L565.2,997.0 L568.8,996.1 L572.3,993.3 L575.9,989.7 L579.5,984.7 L583.1,977.6 L586.7,968.1 L590.3,955.8 L593.9,934.9 L597.5,906.4 L601.1,868.3 L604.7,808.9 L608.3,700.5 L611.9,594.9 L615.5,503.5 L619.0,455.0 L622.6,498.7 L626.2,584.1 L629.8,670.8 L633.4,769.3 L637.0,852.9 L640.6,896.0 L644.2,916.3 L647.8,931.0 L651.4,946.2 L655.0,959.6 L658.6,966.6 L662.2,970.8 L665.8,974.5 L669.3,979.7 L672.9,986.6 L676.5,992.9 L680.1,997.0 L683.7,1000.4 L687.3,1003.2 L690.9,1005.2 L694.5,1006.6 L698.1,1007.7 L701.7,1008.6 L705.3,1009.4 L708.9,1010.0 L712.5,1010.6 L716.0,1011.0 L719.6,1011.4 L723.2,1011.8 L726.8,1012.1 L730.4,1012.4 L734.0,1012.7 L737.6,1012.8 L741.2,1012.9 L744.8,1012.7 L748.4,1012.1 L752.0,1011.0 L755.6,1009.6 L759.2,1007.9 L762.7,1006.1 L766.3,1004.0 L769.9,1001.0 L773.5,997.1 L777.1,992.3 L780.7,986.0 L784.3,977.0 L787.9,966.0 L791.5,953.4 L795.1,938.0 L798.7,918.9 L802.3,899.9 L805.9,881.7 L809.5,870.5 L813.0,865.0 L816.6,868.8 L820.2,877.7 L823.8,887.7 L827.4,900.4 L831.0,912.4 L834.6,921.6 L838.2,927.6 L841.8,930.9 L845.4,932.8 L849.0,932.3 L852.6,929.9 L856.2,926.6 L859.7,923.5 L863.3,921.2 L866.9,919.0 L870.5,917.2 L874.1,915.6 L877.7,914.1 L881.3,912.5 L884.9,910.9 L888.5,909.3 L892.1,907.1 L895.7,903.0 L899.3,897.0 L902.9,890.0 L906.4,882.1 L910.0,872.6 L913.6,862.7 L917.2,852.3 L920.8,840.8 L924.4,828.2 L928.0,811.4 L931.6,787.9 L935.2,758.0 L938.8,720.9 L942.4,682.0 L946.0,637.7 L949.6,600.7 L953.2,578.8 L956.7,561.7 L960.3,543.6 L963.9,525.6 L967.5,513.8 L969.6,510.5 L971.1,512.4 L974.7,524.0 L978.3,542.9 L981.9,558.9 L985.5,570.0 L989.1,582.2 L992.7,600.1 L996.3,608.1 L999.9,613.9 L1003.4,618.8 L1007.0,623.6 L1010.6,629.4 L1014.2,636.6 L1017.8,645.9 L1021.4,660.7 L1025.0,679.0 L1028.6,700.3 L1032.2,725.4 L1035.8,747.7 L1039.4,781.0 L1043.0,807.9 L1046.6,830.2 L1050.2,852.1 L1053.7,877.0 L1057.3,895.8 L1060.9,911.7 L1064.5,925.6 L1068.1,938.2 L1071.7,949.2 L1075.3,956.4 L1078.9,962.6 L1082.5,967.9 L1086.1,972.1 L1089.7,975.1 L1093.3,977.1 L1096.9,979.0 L1100.4,980.4 L1104.0,981.2 L1107.6,981.4 L1111.2,981.4 L1114.8,981.4 L1118.4,981.3 L1122.0,979.1 L1125.6,975.7 L1129.2,973.8 L1132.8,972.8 L1136.4,971.4 L1140.0,968.5 L1143.6,964.9 L1147.1,961.5 L1150.7,959.1 L1154.3,956.8 L1157.9,954.6 L1161.5,952.8 L1165.1,951.7 L1168.7,951.4 L1172.3,952.2 L1175.9,953.5 L1179.5,955.2 L1183.1,958.1 L1186.7,961.7 L1190.3,965.4 L1193.8,970.1 L1197.4,973.5 L1201.0,974.3 L1204.6,974.9 L1208.2,978.2 L1211.8,982.7 L1215.4,985.2 L1219.0,986.9 L1222.6,987.0 L1226.2,986.6 L1229.8,986.0 L1233.4,985.3 L1237.0,984.6 L1240.6,983.7 L1244.1,982.7 L1247.7,981.8 L1251.3,981.4 L1254.9,981.5 L1258.5,982.0 L1262.1,982.7 L1265.7,983.5 L1269.3,984.4 L1272.9,985.8 L1276.5,987.5 L1280.1,989.6 L1283.7,993.1 L1287.3,997.4 L1290.8,998.8 L1294.4,999.2 L1298.0,1002.4 L1301.6,1008.1 L1305.2,1012.0 L1308.8,1015.4 L1312.4,1017.7 L1316.0,1018.8 L1319.6,1019.8 L1323.2,1020.9 L1326.8,1022.6 L1330.4,1024.1 L1334.0,1025.3 L1337.6,1026.4 L1341.1,1026.9 L1344.7,1025.6 L1348.3,1023.5 L1351.9,1023.9 L1355.5,1027.0 L1359.1,1028.5 L1362.7,1027.5 L1366.3,1026.9 L1369.9,1029.1 L1373.5,1031.4 L1377.1,1033.0 L1380.7,1033.9 L1384.3,1033.8 L1387.8,1033.6 L1391.4,1033.5 L1395.0,1033.3 L1398.6,1034.0 L1402.2,1035.8 L1405.8,1035.8 L1409.4,1035.7 L1413.0,1035.5 L1416.6,1034.9 L1420.2,1034.2 L1423.8,1036.1 L1427.4,1037.4 L1431.0,1037.2 L1434.5,1036.9 L1438.1,1036.8 L1441.7,1037.3 L1445.3,1037.8 L1448.9,1035.4 L1452.5,1034.1 L1456.1,1033.8 L1459.7,1033.6 L1463.3,1033.6 L1466.9,1036.8 L1470.5,1038.2 L1474.1,1036.7 L1477.7,1036.6 L1481.2,1036.9 L1484.8,1033.7 L1488.4,1031.6 L1492.0,1032.8 L1495.6,1034.6 L1499.2,1037.0 L1502.8,1038.4 L1506.4,1038.9 L1510.0,1038.5 L1513.6,1037.2 L1517.2,1037.1 L1520.8,1038.1 L1524.4,1038.3 L1528.0,1036.7 L1531.5,1035.4 L1535.1,1036.2 L1538.7,1038.6 L1542.3,1040.5 L1545.9,1040.7 L1549.5,1040.7 L1553.1,1040.7 L1556.7,1039.3 L1560.3,1035.2 L1563.9,1033.2 L1567.5,1036.8 L1571.1,1040.1 L1574.7,1039.1 L1578.2,1037.8 L1581.8,1039.0 L1585.4,1041.6 L1589.0,1042.7 L1592.6,1041.6 L1596.2,1039.8 L1599.8,1038.4 L1603.4,1038.7 L1607.0,1041.6 L1610.6,1043.2 L1614.2,1041.9 L1617.8,1039.8 L1621.4,1039.1 L1625.0,1040.6 L1628.5,1042.7 L1632.1,1043.3 L1635.7,1042.3 L1639.3,1040.7 L1642.9,1039.2 L1646.7,1038.5"/></g>
<g stroke="#008080"><path d="M341.4,1031.1 L344.7,1031.1 L348.3,1031.1 L351.9,1031.1 L355.5,1031.0 L359.1,1031.0 L362.7,1031.0 L366.3,1031.0 L369.9,1031.0 L373.5,1030.9 L377.1,1030.9 L380.6,1030.9 L384.2,1030.9 L387.8,1030.9 L391.4,1030.8 L395.0,1030.8 L398.6,1030.8 L402.2,1030.8 L405.8,1030.7 L409.4,1030.7 L413.0,1030.4 L416.6,1030.1 L420.2,1029.8 L423.8,1030.0 L427.3,1030.7 L430.9,1031.6 L434.5,1032.5 L438.1,1032.8 L441.7,1032.4 L445.3,1031.5 L448.9,1030.6 L452.5,1030.4 L456.1,1030.3 L459.7,1030.3 L463.3,1030.3 L466.9,1030.3 L470.5,1030.2 L474.1,1029.9 L477.6,1029.5 L481.2,1028.8 L484.8,1028.1 L488.4,1027.2 L492.0,1026.3 L495.6,1025.2 L499.2,1024.0 L502.8,1022.6 L506.4,1020.6 L510.0,1018.0 L513.6,1014.8 L517.2,1011.0 L520.8,1004.9 L524.3,997.2 L527.9,989.1 L531.5,980.1 L535.1,968.5 L538.8,960.0 L542.3,966.9 L545.9,978.8 L549.5,988.2 L553.1,996.3 L556.7,1000.3 L560.3,1003.3 L563.9,1004.9 L567.5,1004.6 L571.0,1002.5 L574.6,999.5 L578.2,996.1 L581.8,991.5 L585.4,985.5 L589.0,978.7 L592.6,971.4 L596.2,961.0 L599.8,937.3 L603.4,898.2 L607.0,836.0 L610.6,785.9 L614.2,727.9 L617.8,702.0 L621.3,727.9 L624.9,781.1 L628.5,834.0 L632.1,901.6 L635.7,925.5 L639.3,944.4 L642.9,961.2 L646.5,972.5 L650.1,981.0 L653.7,987.0 L657.3,990.4 L660.9,992.6 L664.5,994.5 L668.0,996.9 L671.6,999.9 L675.2,1003.0 L678.8,1005.4 L682.4,1007.2 L686.0,1008.7 L689.6,1010.1 L693.2,1011.2 L696.8,1011.9 L700.4,1012.4 L704.0,1012.8 L707.6,1013.1 L711.2,1013.3 L714.7,1013.5 L718.3,1013.6 L721.9,1013.6 L725.5,1013.4 L729.1,1013.1 L732.7,1012.6 L736.3,1012.1 L739.9,1011.5 L743.5,1010.8 L747.1,1009.5 L750.7,1007.7 L754.3,1005.4 L757.9,1002.6 L761.4,999.4 L765.0,994.8 L768.6,987.5 L772.2,978.1 L775.8,967.6 L779.4,956.0 L783.0,940.6 L786.6,913.6 L790.2,878.8 L793.8,849.3 L797.4,811.0 L801.0,758.9 L804.6,724.6 L808.2,697.3 L811.8,685.5 L815.3,696.5 L818.9,721.6 L822.5,749.3 L826.1,782.6 L829.7,818.7 L833.3,850.1 L836.9,873.9 L840.5,890.6 L844.1,900.7 L847.7,906.9 L851.3,909.3 L854.9,910.9 L858.4,911.4 L862.0,910.5 L865.6,910.0 L869.2,911.2 L872.8,913.5 L876.4,915.7 L880.0,917.2 L883.6,918.5 L887.2,919.3 L890.8,918.6 L894.4,916.2 L898.0,912.8 L901.6,908.5 L905.1,901.5 L908.7,892.9 L912.3,882.6 L915.9,869.9 L919.5,857.9 L923.1,846.8 L926.7,832.8 L930.3,811.6 L933.9,783.9 L937.5,747.9 L941.1,704.8 L944.7,663.1 L948.3,621.5 L951.9,586.3 L955.4,556.7 L959.0,528.5 L962.6,496.2 L966.2,479.6 L968.4,476.5 L969.8,478.1 L973.4,490.3 L977.0,516.9 L980.6,545.4 L984.2,571.2 L987.8,599.4 L991.4,636.6 L995.0,664.7 L998.6,681.4 L1002.1,705.0 L1005.7,724.3 L1009.3,738.3 L1012.9,748.4 L1016.5,757.2 L1020.1,773.5 L1023.7,790.4 L1027.3,807.1 L1030.9,823.8 L1034.5,840.6 L1038.1,857.3 L1041.7,874.3 L1045.3,889.8 L1048.8,904.9 L1052.4,919.0 L1056.0,931.4 L1059.6,941.4 L1063.2,949.2 L1066.8,955.3 L1070.4,960.7 L1074.0,965.0 L1077.6,968.2 L1081.2,970.6 L1084.8,972.7 L1088.4,974.0 L1092.0,974.2 L1095.6,973.4 L1099.1,971.8 L1102.7,969.9 L1106.3,967.9 L1109.9,965.7 L1113.5,962.9 L1117.1,959.6 L1120.7,955.3 L1124.3,948.5 L1127.9,940.4 L1131.5,932.2 L1135.1,923.2 L1138.7,913.9 L1142.3,904.7 L1145.8,895.0 L1149.4,885.9 L1153.0,878.6 L1156.6,872.6 L1160.2,868.0 L1163.8,865.1 L1167.4,863.0 L1169.3,862.6 L1171.0,862.9 L1174.6,865.3 L1178.2,869.0 L1181.8,876.0 L1185.4,883.6 L1189.0,891.9 L1192.5,899.8 L1196.1,906.0 L1199.7,910.9 L1203.3,915.3 L1206.9,919.1 L1210.5,922.5 L1214.1,926.1 L1217.7,929.0 L1221.3,930.0 L1224.9,928.9 L1228.5,926.8 L1232.1,924.2 L1235.7,921.8 L1239.3,919.9 L1242.8,917.7 L1246.4,915.8 L1250.0,914.5 L1252.2,914.3 L1253.6,914.4 L1257.2,915.0 L1260.8,916.3 L1264.4,918.0 L1268.0,920.0 L1271.6,923.1 L1275.2,927.8 L1278.8,933.4 L1282.4,940.2 L1286.0,948.6 L1289.5,955.9 L1293.1,962.2 L1296.7,969.2 L1300.3,979.1 L1303.9,987.5 L1307.5,992.5 L1311.1,996.4 L1314.7,999.7 L1318.3,1002.7 L1321.9,1005.4 L1325.5,1007.9 L1329.1,1010.8 L1332.7,1014.1 L1336.2,1015.7 L1339.8,1015.5 L1343.4,1015.2 L1347.0,1015.1 L1350.6,1017.7 L1354.2,1021.2 L1357.8,1022.0 L1361.4,1021.7 L1365.0,1021.5 L1368.6,1024.1 L1372.2,1026.9 L1375.8,1028.5 L1379.4,1029.4 L1383.0,1029.4 L1386.5,1029.3 L1390.1,1029.3 L1393.7,1029.3 L1397.3,1030.0 L1400.9,1031.9 L1404.5,1032.0 L1408.1,1032.0 L1411.7,1031.9 L1415.3,1031.5 L1418.9,1030.9 L1422.5,1032.9 L1426.1,1034.4 L1429.7,1034.3 L1433.2,1034.2 L1436.8,1034.2 L1440.4,1034.9 L1444.0,1035.6 L1447.6,1033.3 L1451.2,1032.0 L1454.8,1031.8 L1458.4,1031.6 L1462.0,1031.5 L1465.6,1034.7 L1469.2,1036.0 L1472.8,1034.4 L1476.4,1034.2 L1479.9,1034.3 L1483.5,1031.0 L1487.1,1028.8 L1490.7,1030.2 L1494.3,1032.3 L1497.9,1034.9 L1501.5,1036.5 L1505.1,1037.2 L1508.7,1036.9 L1512.3,1035.8 L1515.9,1035.6 L1519.5,1036.1 L1523.1,1036.1 L1526.7,1034.0 L1530.2,1032.3 L1533.8,1033.0 L1537.4,1035.1 L1541.0,1036.7 L1544.6,1036.9 L1548.2,1036.7 L1551.8,1036.4 L1555.4,1034.6 L1559.0,1030.3 L1562.6,1028.2 L1566.2,1032.1 L1569.8,1035.7 L1573.4,1034.9 L1576.9,1034.0 L1580.5,1035.4 L1584.1,1038.5 L1587.7,1039.7 L1591.3,1038.9 L1594.9,1037.5 L1598.5,1036.4 L1602.1,1036.7 L1605.7,1039.7 L1609.3,1041.4 L1612.9,1040.1 L1616.5,1038.2 L1620.1,1037.5 L1623.6,1039.2 L1627.2,1041.4 L1630.8,1042.0 L1634.4,1041.0 L1638.0,1039.5 L1641.6,1038.1 L1645.3,1037.5"/><path d="M342.6,1031.1 L346.0,1031.1 L349.6,1031.1 L353.2,1031.1 L356.8,1031.0 L360.4,1031.0 L364.0,1031.0 L367.6,1031.0 L371.2,1031.0 L374.8,1030.9 L378.4,1030.9 L381.9,1030.9 L385.5,1030.9 L389.1,1030.9 L392.7,1030.8 L396.3,1030.8 L399.9,1030.8 L403.5,1030.8 L407.1,1030.7 L410.7,1030.7 L414.3,1030.4 L417.9,1030.1 L421.5,1029.8 L425.1,1030.0 L428.6,1030.7 L432.2,1031.6 L435.8,1032.5 L439.4,1032.8 L443.0,1032.4 L446.6,1031.5 L450.2,1030.6 L453.8,1030.4 L457.4,1030.3 L461.0,1030.3 L464.6,1030.3 L468.2,1030.3 L471.8,1030.2 L475.3,1029.9 L478.9,1029.5 L482.5,1028.8 L486.1,1028.1 L489.7,1027.2 L493.3,1026.3 L496.9,1025.2 L500.5,1024.0 L504.1,1022.6 L507.7,1020.6 L511.3,1018.0 L514.9,1014.8 L518.5,1011.0 L522.1,1004.9 L525.6,997.2 L529.2,989.1 L532.8,980.1 L536.4,968.5 L540.0,960.0 L543.6,966.9 L547.2,978.8 L550.8,988.2 L554.4,996.3 L558.0,1000.3 L561.6,1003.3 L565.2,1004.9 L568.8,1004.6 L572.3,1002.5 L575.9,999.5 L579.5,996.1 L583.1,991.5 L586.7,985.5 L590.3,978.7 L593.9,971.4 L597.5,961.0 L601.1,937.3 L604.7,898.2 L608.3,836.0 L611.9,785.9 L615.5,727.9 L619.0,702.0 L622.6,727.9 L626.2,781.1 L629.8,834.0 L633.4,901.6 L637.0,925.5 L640.6,944.4 L644.2,961.2 L647.8,972.5 L651.4,981.0 L655.0,987.0 L658.6,990.4 L662.2,992.6 L665.8,994.5 L669.3,996.9 L672.9,999.9 L676.5,1003.0 L680.1,1005.4 L683.7,1007.2 L687.3,1008.7 L690.9,1010.1 L694.5,1011.2 L698.1,1011.9 L701.7,1012.4 L705.3,1012.8 L708.9,1013.1 L712.5,1013.3 L716.0,1013.5 L719.6,1013.6 L723.2,1013.6 L726.8,1013.4 L730.4,1013.1 L734.0,1012.6 L737.6,1012.1 L741.2,1011.5 L744.8,1010.8 L748.4,1009.5 L752.0,1007.7 L755.6,1005.4 L759.2,1002.6 L762.7,999.4 L766.3,994.8 L769.9,987.5 L773.5,978.1 L777.1,967.6 L780.7,956.0 L784.3,940.6 L787.9,913.6 L791.5,878.8 L795.1,849.3 L798.7,811.0 L802.3,758.9 L805.9,724.6 L809.5,697.3 L813.0,685.5 L816.6,696.5 L820.2,721.6 L823.8,749.3 L827.4,782.6 L831.0,818.7 L834.6,850.1 L838.2,873.9 L841.8,890.6 L845.4,900.7 L849.0,906.9 L852.6,909.3 L856.2,910.9 L859.7,911.4 L863.3,910.5 L866.9,910.0 L870.5,911.2 L874.1,913.5 L877.7,915.7 L881.3,917.2 L884.9,918.5 L888.5,919.3 L892.1,918.6 L895.7,916.2 L899.3,912.8 L902.9,908.5 L906.4,901.5 L910.0,892.9 L913.6,882.6 L917.2,869.9 L920.8,857.9 L924.4,846.8 L928.0,832.8 L931.6,811.6 L935.2,783.9 L938.8,747.9 L942.4,704.8 L946.0,663.1 L949.6,621.5 L953.2,586.3 L956.7,556.7 L960.3,528.5 L963.9,496.2 L967.5,479.6 L969.6,476.5 L971.1,478.1 L974.7,490.3 L978.3,516.9 L981.9,545.4 L985.5,571.2 L989.1,599.4 L992.7,636.6 L996.3,664.7 L999.9,681.4 L1003.4,705.0 L1007.0,724.3 L1010.6,738.3 L1014.2,748.4 L1017.8,757.2 L1021.4,773.5 L1025.0,790.4 L1028.6,807.1 L1032.2,823.8 L1035.8,840.6 L1039.4,857.3 L1043.0,874.3 L1046.6,889.8 L1050.2,904.9 L1053.7,919.0 L1057.3,931.4 L1060.9,941.4 L1064.5,949.2 L1068.1,955.3 L1071.7,960.7 L1075.3,965.0 L1078.9,968.2 L1082.5,970.6 L1086.1,972.7 L1089.7,974.0 L1093.3,974.2 L1096.9,973.4 L1100.4,971.8 L1104.0,969.9 L1107.6,967.9 L1111.2,965.7 L1114.8,962.9 L1118.4,959.6 L1122.0,955.3 L1125.6,948.5 L1129.2,940.4 L1132.8,932.2 L1136.4,923.2 L1140.0,913.9 L1143.6,904.7 L1147.1,895.0 L1150.7,885.9 L1154.3,878.6 L1157.9,872.6 L1161.5,868.0 L1165.1,865.1 L1168.7,863.0 L1170.7,862.6 L1172.3,862.9 L1175.9,865.3 L1179.5,869.0 L1183.1,876.0 L1186.7,883.6 L1190.3,891.9 L1193.8,899.8 L1197.4,906.0 L1201.0,910.9 L1204.6,915.3 L1208.2,919.1 L1211.8,922.5 L1215.4,926.1 L1219.0,929.0 L1222.6,930.0 L1226.2,928.9 L1229.8,926.8 L1233.4,924.2 L1237.0,921.8 L1240.6,919.9 L1244.1,917.7 L1247.7,915.8 L1251.3,914.5 L1253.6,914.3 L1254.9,914.4 L1258.5,915.0 L1262.1,916.3 L1265.7,918.0 L1269.3,920.0 L1272.9,923.1 L1276.5,927.8 L1280.1,933.4 L1283.7,940.2 L1287.3,948.6 L1290.8,955.9 L1294.4,962.2 L1298.0,969.2 L1301.6,979.1 L1305.2,987.5 L1308.8,992.5 L1312.4,996.4 L1316.0,999.7 L1319.6,1002.7 L1323.2,1005.4 L1326.8,1007.9 L1330.4,1010.8 L1334.0,1014.1 L1337.6,1015.7 L1341.1,1015.5 L1344.7,1015.2 L1348.3,1015.1 L1351.9,1017.7 L1355.5,1021.2 L1359.1,1022.0 L1362.7,1021.7 L1366.3,1021.5 L1369.9,1024.1 L1373.5,1026.9 L1377.1,1028.5 L1380.7,1029.4 L1384.3,1029.4 L1387.8,1029.3 L1391.4,1029.3 L1395.0,1029.3 L1398.6,1030.0 L1402.2,1031.9 L1405.8,1032.0 L1409.4,1032.0 L1413.0,1031.9 L1416.6,1031.5 L1420.2,1030.9 L1423.8,1032.9 L1427.4,1034.4 L1431.0,1034.3 L1434.5,1034.2 L1438.1,1034.2 L1441.7,1034.9 L1445.3,1035.6 L1448.9,1033.3 L1452.5,1032.0 L1456.1,1031.8 L1459.7,1031.6 L1463.3,1031.5 L1466.9,1034.7 L1470.5,1036.0 L1474.1,1034.4 L1477.7,1034.2 L1481.2,1034.3 L1484.8,1031.0 L1488.4,1028.8 L1492.0,1030.2 L1495.6,1032.3 L1499.2,1034.9 L1502.8,1036.5 L1506.4,1037.2 L1510.0,1036.9 L1513.6,1035.8 L1517.2,1035.6 L1520.8,1036.1 L1524.4,1036.1 L1528.0,1034.0 L1531.5,1032.3 L1535.1,1033.0 L1538.7,1035.1 L1542.3,1036.7 L1545.9,1036.9 L1549.5,1036.7 L1553.1,1036.4 L1556.7,1034.6 L1560.3,1030.3 L1563.9,1028.2 L1567.5,1032.1 L1571.1,1035.7 L1574.7,1034.9 L1578.2,1034.0 L1581.8,1035.4 L1585.4,1038.5 L1589.0,1039.7 L1592.6,1038.9 L1596.2,1037.5 L1599.8,1036.4 L1603.4,1036.7 L1607.0,1039.7 L1610.6,1041.4 L1614.2,1040.1 L1617.8,1038.2 L1621.4,1037.5 L1625.0,1039.2 L1628.5,1041.4 L1632.1,1042.0 L1635.7,1041.0 L1639.3,1039.5 L1642.9,1038.1 L1646.7,1037.5"/></g>
<g stroke="#ff00ff"><path d="M341.4,1030.2 L344.7,1030.2 L348.3,1030.2 L351.9,1030.1 L355.5,1030.1 L359.1,1030.1 L362.7,1030.1 L366.3,1030.1 L369.9,1030.0 L373.5,1030.0 L377.1,1030.0 L380.6,1030.0 L384.2,1030.0 L387.8,1030.0 L391.4,1030.0 L395.0,1029.9 L398.6,1029.9 L402.2,1029.9 L405.8,1029.9 L409.4,1029.8 L413.0,1029.6 L416.6,1029.2 L420.2,1028.9 L423.8,1029.1 L427.3,1029.9 L430.9,1030.9 L434.5,1031.7 L438.1,1032.1 L441.7,1031.7 L445.3,1030.8 L448.9,1030.0 L452.5,1029.8 L456.1,1029.9 L459.7,1030.1 L463.3,1030.4 L466.9,1030.5 L470.5,1030.4 L474.1,1030.2 L477.6,1029.9 L481.2,1029.5 L484.8,1028.9 L488.4,1028.3 L492.0,1027.6 L495.6,1026.8 L499.2,1026.0 L502.8,1025.1 L506.4,1023.9 L510.0,1022.4 L513.6,1020.6 L517.2,1018.4 L520.8,1015.8 L524.3,1011.7 L527.9,1006.8 L531.5,1001.9 L535.1,996.3 L538.8,993.5 L542.3,996.1 L545.9,1001.2 L549.5,1005.4 L553.1,1009.3 L556.7,1011.7 L560.3,1013.3 L563.9,1014.2 L567.5,1014.1 L571.0,1012.9 L574.6,1011.0 L578.2,1008.7 L581.8,1005.9 L585.4,1001.6 L589.0,996.1 L592.6,989.7 L596.2,982.2 L599.8,972.1 L603.4,957.9 L607.0,927.7 L610.6,896.3 L614.2,859.5 L617.8,845.0 L621.3,859.5 L624.9,884.7 L628.5,918.5 L632.1,946.4 L635.7,968.0 L639.3,981.0 L642.9,989.5 L646.5,995.4 L650.1,999.1 L653.7,1001.8 L657.3,1004.0 L660.9,1005.8 L664.5,1007.4 L668.0,1008.9 L671.6,1010.1 L675.2,1011.1 L678.8,1011.9 L682.4,1012.6 L686.0,1013.2 L689.6,1013.7 L693.2,1014.1 L696.8,1014.3 L700.4,1014.3 L704.0,1014.2 L707.6,1014.1 L711.2,1014.0 L714.7,1013.8 L718.3,1013.7 L721.9,1013.4 L725.5,1013.2 L729.1,1012.8 L732.7,1012.3 L736.3,1011.5 L739.9,1010.2 L743.5,1008.5 L747.1,1006.5 L750.7,1004.5 L754.3,1002.4 L757.9,999.8 L761.4,996.7 L765.0,992.5 L768.6,986.3 L772.2,977.4 L775.8,965.4 L779.4,942.3 L783.0,903.2 L786.6,867.3 L790.2,842.0 L793.8,809.1 L797.4,766.8 L801.0,709.9 L804.6,640.1 L808.2,580.5 L811.8,568.5 L815.3,580.4 L818.9,611.2 L822.5,655.9 L826.1,707.1 L829.7,756.8 L833.3,797.1 L836.9,836.4 L840.5,869.5 L844.1,884.6 L847.7,894.5 L851.3,902.3 L854.9,908.1 L858.4,911.9 L862.0,914.4 L865.6,916.5 L869.2,918.8 L872.8,921.9 L876.4,925.6 L880.0,929.3 L883.6,933.0 L887.2,936.3 L890.8,936.9 L894.4,935.1 L898.0,931.9 L901.6,927.9 L905.1,922.6 L908.7,914.7 L912.3,905.5 L915.9,894.8 L919.5,881.9 L923.1,867.0 L926.7,848.8 L930.3,823.7 L933.9,792.8 L937.5,759.3 L941.1,724.7 L944.7,686.4 L948.3,639.8 L951.9,594.2 L955.4,555.4 L959.0,518.5 L962.6,476.7 L966.2,453.1 L968.4,449.0 L969.8,451.2 L973.4,467.2 L977.0,500.5 L980.6,535.8 L984.2,572.3 L987.8,609.9 L991.4,648.8 L995.0,677.7 L998.6,705.4 L1002.1,741.8 L1005.7,779.9 L1009.3,799.9 L1012.9,815.3 L1016.5,827.6 L1020.1,838.6 L1023.7,850.0 L1027.3,863.4 L1030.9,877.8 L1034.5,892.0 L1038.1,906.7 L1041.7,920.4 L1045.3,932.0 L1048.8,940.2 L1052.4,946.1 L1056.0,951.6 L1059.6,957.7 L1063.2,963.4 L1066.8,967.6 L1070.4,970.1 L1074.0,972.2 L1077.6,973.4 L1081.2,973.6 L1084.8,973.2 L1088.4,972.6 L1092.0,971.8 L1095.6,970.7 L1099.1,968.6 L1102.7,966.0 L1106.3,963.4 L1109.9,960.9 L1113.5,956.7 L1117.1,947.9 L1120.7,937.1 L1124.3,925.7 L1127.9,913.4 L1131.5,902.2 L1135.1,891.8 L1138.7,880.6 L1142.3,866.6 L1145.8,852.1 L1149.4,840.5 L1153.0,830.3 L1156.6,819.9 L1160.2,811.2 L1163.8,806.6 L1167.4,803.7 L1168.9,803.3 L1171.0,804.0 L1174.6,807.8 L1178.2,813.6 L1181.8,823.2 L1185.4,833.7 L1189.0,845.2 L1192.5,853.8 L1196.1,860.1 L1199.7,866.5 L1203.3,874.1 L1206.9,880.7 L1210.5,885.9 L1214.1,889.6 L1217.7,892.5 L1221.3,893.6 L1224.9,892.1 L1228.5,889.6 L1232.1,886.8 L1235.7,883.1 L1239.3,879.4 L1242.8,876.7 L1246.4,874.5 L1250.0,872.5 L1253.6,871.1 L1256.4,870.7 L1260.8,872.5 L1264.4,875.9 L1268.0,880.1 L1271.6,886.1 L1275.2,894.2 L1278.8,902.5 L1282.4,911.4 L1286.0,921.1 L1289.5,931.8 L1293.1,942.7 L1296.7,954.0 L1300.3,963.8 L1303.9,972.3 L1307.5,979.3 L1311.1,984.6 L1314.7,989.2 L1318.3,993.1 L1321.9,996.7 L1325.5,1000.5 L1329.1,1004.3 L1332.7,1007.3 L1336.2,1008.6 L1339.8,1008.6 L1343.4,1008.6 L1347.0,1008.7 L1350.6,1011.1 L1354.2,1014.8 L1357.8,1017.1 L1361.4,1017.3 L1365.0,1017.5 L1368.6,1019.8 L1372.2,1023.0 L1375.8,1025.4 L1379.4,1026.9 L1383.0,1027.0 L1386.5,1027.1 L1390.1,1027.1 L1393.7,1027.2 L1397.3,1028.0 L1400.9,1030.0 L1404.5,1030.3 L1408.1,1030.4 L1411.7,1030.4 L1415.3,1030.1 L1418.9,1029.5 L1422.5,1031.5 L1426.1,1032.9 L1429.7,1032.9 L1433.2,1032.8 L1436.8,1032.8 L1440.4,1033.5 L1444.0,1034.1 L1447.6,1031.8 L1451.2,1030.6 L1454.8,1030.4 L1458.4,1030.2 L1462.0,1030.2 L1465.6,1033.4 L1469.2,1034.7 L1472.8,1033.1 L1476.4,1033.0 L1479.9,1033.2 L1483.5,1030.0 L1487.1,1027.8 L1490.7,1029.3 L1494.3,1031.4 L1497.9,1034.0 L1501.5,1035.7 L1505.1,1036.5 L1508.7,1036.2 L1512.3,1035.0 L1515.9,1034.8 L1519.5,1035.3 L1523.1,1035.2 L1526.7,1033.1 L1530.2,1031.3 L1533.8,1031.9 L1537.4,1033.8 L1541.0,1035.4 L1544.6,1035.4 L1548.2,1035.2 L1551.8,1034.7 L1555.4,1032.8 L1559.0,1028.4 L1562.6,1026.2 L1566.2,1030.2 L1569.8,1033.9 L1573.4,1033.2 L1576.9,1032.4 L1580.5,1033.9 L1584.1,1037.1 L1587.7,1038.4 L1591.3,1037.6 L1594.9,1036.4 L1598.5,1035.4 L1602.1,1035.7 L1605.7,1038.7 L1609.3,1040.4 L1612.9,1039.1 L1616.5,1037.2 L1620.1,1036.5 L1623.6,1038.2 L1627.2,1040.4 L1630.8,1041.0 L1634.4,1040.0 L1638.0,1038.5 L1641.6,1037.1 L1645.3,1036.5"/><path d="M342.6,1030.2 L346.0,1030.2 L349.6,1030.2 L353.2,1030.1 L356.8,1030.1 L360.4,1030.1 L364.0,1030.1 L367.6,1030.1 L371.2,1030.0 L374.8,1030.0 L378.4,1030.0 L381.9,1030.0 L385.5,1030.0 L389.1,1030.0 L392.7,1030.0 L396.3,1029.9 L399.9,1029.9 L403.5,1029.9 L407.1,1029.9 L410.7,1029.8 L414.3,1029.6 L417.9,1029.2 L421.5,1028.9 L425.1,1029.1 L428.6,1029.9 L432.2,1030.9 L435.8,1031.7 L439.4,1032.1 L443.0,1031.7 L446.6,1030.8 L450.2,1030.0 L453.8,1029.8 L457.4,1029.9 L461.0,1030.1 L464.6,1030.4 L468.2,1030.5 L471.8,1030.4 L475.3,1030.2 L478.9,1029.9 L482.5,1029.5 L486.1,1028.9 L489.7,1028.3 L493.3,1027.6 L496.9,1026.8 L500.5,1026.0 L504.1,1025.1 L507.7,1023.9 L511.3,1022.4 L514.9,1020.6 L518.5,1018.4 L522.1,1015.8 L525.6,1011.7 L529.2,1006.8 L532.8,1001.9 L536.4,996.3 L540.0,993.5 L543.6,996.1 L547.2,1001.2 L550.8,1005.4 L554.4,1009.3 L558.0,1011.7 L561.6,1013.3 L565.2,1014.2 L568.8,1014.1 L572.3,1012.9 L575.9,1011.0 L579.5,1008.7 L583.1,1005.9 L586.7,1001.6 L590.3,996.1 L593.9,989.7 L597.5,982.2 L601.1,972.1 L604.7,957.9 L608.3,927.7 L611.9,896.3 L615.5,859.5 L619.0,845.0 L622.6,859.5 L626.2,884.7 L629.8,918.5 L633.4,946.4 L637.0,968.0 L640.6,981.0 L644.2,989.5 L647.8,995.4 L651.4,999.1 L655.0,1001.8 L658.6,1004.0 L662.2,1005.8 L665.8,1007.4 L669.3,1008.9 L672.9,1010.1 L676.5,1011.1 L680.1,1011.9 L683.7,1012.6 L687.3,1013.2 L690.9,1013.7 L694.5,1014.1 L698.1,1014.3 L701.7,1014.3 L705.3,1014.2 L708.9,1014.1 L712.5,1014.0 L716.0,1013.8 L719.6,1013.7 L723.2,1013.4 L726.8,1013.2 L730.4,1012.8 L734.0,1012.3 L737.6,1011.5 L741.2,1010.2 L744.8,1008.5 L748.4,1006.5 L752.0,1004.5 L755.6,1002.4 L759.2,999.8 L762.7,996.7 L766.3,992.5 L769.9,986.3 L773.5,977.4 L777.1,965.4 L780.7,942.3 L784.3,903.2 L787.9,867.3 L791.5,842.0 L795.1,809.1 L798.7,766.8 L802.3,709.9 L805.9,640.1 L809.5,580.5 L813.0,568.5 L816.6,580.4 L820.2,611.2 L823.8,655.9 L827.4,707.1 L831.0,756.8 L834.6,797.1 L838.2,836.4 L841.8,869.5 L845.4,884.6 L849.0,894.5 L852.6,902.3 L856.2,908.1 L859.7,911.9 L863.3,914.4 L866.9,916.5 L870.5,918.8 L874.1,921.9 L877.7,925.6 L881.3,929.3 L884.9,933.0 L888.5,936.3 L892.1,936.9 L895.7,935.1 L899.3,931.9 L902.9,927.9 L906.4,922.6 L910.0,914.7 L913.6,905.5 L917.2,894.8 L920.8,881.9 L924.4,867.0 L928.0,848.8 L931.6,823.7 L935.2,792.8 L938.8,759.3 L942.4,724.7 L946.0,686.4 L949.6,639.8 L953.2,594.2 L956.7,555.4 L960.3,518.5 L963.9,476.7 L967.5,453.1 L969.6,449.0 L971.1,451.2 L974.7,467.2 L978.3,500.5 L981.9,535.8 L985.5,572.3 L989.1,609.9 L992.7,648.8 L996.3,677.7 L999.9,705.4 L1003.4,741.8 L1007.0,779.9 L1010.6,799.9 L1014.2,815.3 L1017.8,827.6 L1021.4,838.6 L1025.0,850.0 L1028.6,863.4 L1032.2,877.8 L1035.8,892.0 L1039.4,906.7 L1043.0,920.4 L1046.6,932.0 L1050.2,940.2 L1053.7,946.1 L1057.3,951.6 L1060.9,957.7 L1064.5,963.4 L1068.1,967.6 L1071.7,970.1 L1075.3,972.2 L1078.9,973.4 L1082.5,973.6 L1086.1,973.2 L1089.7,972.6 L1093.3,971.8 L1096.9,970.7 L1100.4,968.6 L1104.0,966.0 L1107.6,963.4 L1111.2,960.9 L1114.8,956.7 L1118.4,947.9 L1122.0,937.1 L1125.6,925.7 L1129.2,913.4 L1132.8,902.2 L1136.4,891.8 L1140.0,880.6 L1143.6,866.6 L1147.1,852.1 L1150.7,840.5 L1154.3,830.3 L1157.9,819.9 L1161.5,811.2 L1165.1,806.6 L1168.7,803.7 L1170.2,803.3 L1172.3,804.0 L1175.9,807.8 L1179.5,813.6 L1183.1,823.2 L1186.7,833.7 L1190.3,845.2 L1193.8,853.8 L1197.4,860.1 L1201.0,866.5 L1204.6,874.1 L1208.2,880.7 L1211.8,885.9 L1215.4,889.6 L1219.0,892.5 L1222.6,893.6 L1226.2,892.1 L1229.8,889.6 L1233.4,886.8 L1237.0,883.1 L1240.6,879.4 L1244.1,876.7 L1247.7,874.5 L1251.3,872.5 L1254.9,871.1 L1257.8,870.7 L1262.1,872.5 L1265.7,875.9 L1269.3,880.1 L1272.9,886.1 L1276.5,894.2 L1280.1,902.5 L1283.7,911.4 L1287.3,921.1 L1290.8,931.8 L1294.4,942.7 L1298.0,954.0 L1301.6,963.8 L1305.2,972.3 L1308.8,979.3 L1312.4,984.6 L1316.0,989.2 L1319.6,993.1 L1323.2,996.7 L1326.8,1000.5 L1330.4,1004.3 L1334.0,1007.3 L1337.6,1008.6 L1341.1,1008.6 L1344.7,1008.6 L1348.3,1008.7 L1351.9,1011.1 L1355.5,1014.8 L1359.1,1017.1 L1362.7,1017.3 L1366.3,1017.5 L1369.9,1019.8 L1373.5,1023.0 L1377.1,1025.4 L1380.7,1026.9 L1384.3,1027.0 L1387.8,1027.1 L1391.4,1027.1 L1395.0,1027.2 L1398.6,1028.0 L1402.2,1030.0 L1405.8,1030.3 L1409.4,1030.4 L1413.0,1030.4 L1416.6,1030.1 L1420.2,1029.5 L1423.8,1031.5 L1427.4,1032.9 L1431.0,1032.9 L1434.5,1032.8 L1438.1,1032.8 L1441.7,1033.5 L1445.3,1034.1 L1448.9,1031.8 L1452.5,1030.6 L1456.1,1030.4 L1459.7,1030.2 L1463.3,1030.2 L1466.9,1033.4 L1470.5,1034.7 L1474.1,1033.1 L1477.7,1033.0 L1481.2,1033.2 L1484.8,1030.0 L1488.4,1027.8 L1492.0,1029.3 L1495.6,1031.4 L1499.2,1034.0 L1502.8,1035.7 L1506.4,1036.5 L1510.0,1036.2 L1513.6,1035.0 L1517.2,1034.8 L1520.8,1035.3 L1524.4,1035.2 L1528.0,1033.1 L1531.5,1031.3 L1535.1,1031.9 L1538.7,1033.8 L1542.3,1035.4 L1545.9,1035.4 L1549.5,1035.2 L1553.1,1034.7 L1556.7,1032.8 L1560.3,1028.4 L1563.9,1026.2 L1567.5,1030.2 L1571.1,1033.9 L1574.7,1033.2 L1578.2,1032.4 L1581.8,1033.9 L1585.4,1037.1 L1589.0,1038.4 L1592.6,1037.6 L1596.2,1036.4 L1599.8,1035.4 L1603.4,1035.7 L1607.0,1038.7 L1610.6,1040.4 L1614.2,1039.1 L1617.8,1037.2 L1621.4,1036.5 L1625.0,1038.2 L1628.5,1040.4 L1632.1,1041.0 L1635.7,1040.0 L1639.3,1038.5 L1642.9,1037.1 L1646.7,1036.5"/></g>
<g stroke="#808000"><path d="M341.4,1033.7 L344.7,1033.7 L348.3,1033.7 L351.9,1033.7 L355.5,1033.7 L359.1,1033.6 L362.7,1033.6 L366.3,1033.6 L369.9,1033.6 L373.5,1033.5 L377.1,1033.5 L380.6,1033.5 L384.2,1033.5 L387.8,1033.4 L391.4,1033.4 L395.0,1033.3 L398.6,1033.2 L402.2,1033.2 L405.8,1033.1 L409.4,1033.0 L413.0,1032.8 L416.6,1032.6 L420.2,1032.4 L423.8,1032.6 L427.3,1033.2 L430.9,1033.9 L434.5,1034.6 L438.1,1034.9 L441.7,1034.5 L445.3,1033.6 L448.9,1032.6 L452.5,1032.1 L456.1,1031.8 L459.7,1031.5 L463.3,1031.3 L466.9,1031.0 L470.5,1030.8 L474.1,1030.5 L477.6,1030.2 L481.2,1029.9 L484.8,1029.6 L488.4,1029.3 L492.0,1028.9 L495.6,1028.5 L499.2,1028.0 L502.8,1027.5 L506.4,1026.8 L510.0,1025.9 L513.6,1024.9 L517.2,1023.8 L520.8,1022.4 L524.3,1020.2 L527.9,1017.8 L531.5,1015.6 L535.1,1013.2 L538.8,1012.0 L542.3,1013.1 L545.9,1015.2 L549.5,1017.1 L553.1,1018.9 L556.7,1019.7 L560.3,1019.9 L563.9,1019.9 L567.5,1018.7 L571.0,1017.0 L574.6,1015.2 L578.2,1013.0 L581.8,1010.8 L585.4,1009.5 L589.0,1008.8 L592.6,1007.8 L596.2,1005.3 L599.8,1000.6 L603.4,987.0 L607.0,972.5 L610.6,959.2 L614.2,946.9 L617.8,940.0 L621.3,946.6 L624.9,960.2 L628.5,973.7 L632.1,988.5 L635.7,997.4 L639.3,1004.2 L642.9,1008.8 L646.5,1010.3 L650.1,1010.8 L653.7,1011.2 L657.3,1012.1 L660.9,1013.8 L664.5,1015.6 L668.0,1016.9 L671.6,1017.3 L675.2,1017.5 L678.8,1017.6 L682.4,1017.8 L686.0,1017.9 L689.6,1017.9 L693.2,1017.9 L696.8,1017.8 L700.4,1017.6 L704.0,1017.3 L707.6,1017.0 L711.2,1016.7 L714.7,1016.3 L718.3,1015.8 L721.9,1015.3 L725.5,1014.6 L729.1,1013.6 L732.7,1012.4 L736.3,1010.8 L739.9,1008.4 L743.5,1005.7 L747.1,1002.9 L750.7,999.8 L754.3,996.1 L757.9,991.3 L761.4,985.4 L765.0,978.6 L768.6,970.6 L772.2,958.5 L775.8,940.0 L779.4,915.8 L783.0,887.3 L786.6,856.1 L790.2,816.7 L793.8,759.6 L797.4,696.3 L801.0,630.8 L804.6,566.8 L808.2,506.0 L811.8,492.5 L815.3,505.9 L818.9,559.7 L822.5,605.3 L826.1,650.0 L829.7,704.2 L833.3,758.3 L836.9,805.5 L840.5,845.6 L844.1,874.1 L847.7,891.1 L851.3,901.0 L854.9,906.7 L858.4,911.0 L862.0,914.4 L865.6,917.5 L869.2,921.1 L872.8,925.7 L876.4,931.2 L880.0,936.2 L883.6,939.8 L887.2,942.8 L890.8,944.8 L894.4,944.8 L898.0,943.5 L901.6,941.4 L905.1,938.5 L908.7,932.2 L912.3,921.7 L915.9,910.0 L919.5,895.7 L923.1,879.6 L926.7,863.3 L930.3,844.3 L933.9,815.7 L937.5,779.0 L941.1,741.0 L944.7,698.7 L948.3,646.2 L951.9,593.8 L955.4,555.8 L959.0,519.4 L962.6,464.9 L966.2,431.3 L968.4,428.0 L969.8,429.8 L973.4,445.4 L977.0,484.4 L980.6,524.2 L984.2,565.9 L987.8,620.5 L991.4,690.2 L995.0,723.5 L998.6,747.5 L1002.1,771.5 L1005.7,800.2 L1009.3,829.2 L1012.9,853.1 L1016.5,867.7 L1020.1,878.0 L1023.7,890.4 L1027.3,904.2 L1030.9,917.8 L1034.5,929.8 L1038.1,938.7 L1041.7,945.0 L1045.3,950.3 L1048.8,955.9 L1052.4,961.4 L1056.0,966.0 L1059.6,969.2 L1063.2,971.4 L1066.8,973.3 L1070.4,974.6 L1074.0,975.0 L1077.6,974.6 L1081.2,973.7 L1084.8,972.6 L1088.4,971.2 L1092.0,969.4 L1095.6,966.9 L1099.1,964.4 L1102.7,962.4 L1106.3,960.0 L1109.9,956.0 L1113.5,948.8 L1117.1,939.4 L1120.7,927.1 L1124.3,911.6 L1127.9,898.1 L1131.5,885.0 L1135.1,871.8 L1138.7,858.5 L1142.3,845.0 L1145.8,831.0 L1149.4,815.6 L1153.0,799.2 L1156.6,785.1 L1160.2,773.2 L1163.8,767.1 L1168.3,764.2 L1171.0,765.2 L1174.6,768.5 L1178.2,774.7 L1181.8,784.4 L1185.4,795.8 L1189.0,808.6 L1192.5,819.3 L1196.1,828.2 L1199.7,836.6 L1203.3,845.1 L1206.9,852.9 L1210.5,858.8 L1214.1,863.7 L1217.7,867.0 L1221.3,868.8 L1224.9,869.0 L1228.5,866.0 L1232.1,861.6 L1235.7,856.5 L1239.3,850.6 L1242.8,846.7 L1246.4,844.1 L1250.0,842.0 L1253.6,840.8 L1255.0,840.7 L1257.2,841.1 L1260.8,843.3 L1264.4,846.4 L1268.0,851.8 L1271.6,859.1 L1275.2,868.4 L1278.8,877.7 L1282.4,886.2 L1286.0,895.6 L1289.5,908.1 L1293.1,922.0 L1296.7,935.7 L1300.3,947.9 L1303.9,958.6 L1307.5,966.6 L1311.1,972.9 L1314.7,978.8 L1318.3,984.9 L1321.9,990.4 L1325.5,994.7 L1329.1,998.6 L1332.7,1002.0 L1336.2,1004.0 L1339.8,1004.1 L1343.4,1003.3 L1347.0,1003.0 L1350.6,1006.8 L1354.2,1012.0 L1357.8,1013.8 L1361.4,1014.0 L1365.0,1014.3 L1368.6,1016.8 L1372.2,1020.4 L1375.8,1023.4 L1379.4,1025.4 L1383.0,1025.4 L1386.5,1025.4 L1390.1,1025.4 L1393.7,1025.4 L1397.3,1026.1 L1400.9,1028.0 L1404.5,1028.1 L1408.1,1028.1 L1411.7,1028.1 L1415.3,1027.7 L1418.9,1027.1 L1422.5,1029.1 L1426.1,1030.5 L1429.7,1030.5 L1433.2,1030.4 L1436.8,1030.4 L1440.4,1031.1 L1444.0,1031.7 L1447.6,1029.5 L1451.2,1028.1 L1454.8,1027.6 L1458.4,1027.4 L1462.0,1027.3 L1465.6,1030.3 L1469.2,1031.4 L1472.8,1029.6 L1476.4,1029.2 L1479.9,1029.2 L1483.5,1025.7 L1487.1,1023.4 L1490.7,1025.2 L1494.3,1027.7 L1497.9,1030.7 L1501.5,1032.9 L1505.1,1034.2 L1508.7,1034.1 L1512.3,1033.5 L1515.9,1033.4 L1519.5,1034.0 L1523.1,1034.0 L1526.7,1031.9 L1530.2,1030.1 L1533.8,1030.6 L1537.4,1031.9 L1541.0,1033.0 L1544.6,1033.0 L1548.2,1032.4 L1551.8,1031.4 L1555.4,1028.9 L1559.0,1024.0 L1562.6,1021.8 L1566.2,1025.9 L1569.8,1029.8 L1573.4,1029.3 L1576.9,1028.7 L1580.5,1030.3 L1584.1,1033.8 L1587.7,1035.2 L1591.3,1034.6 L1594.9,1033.6 L1598.5,1032.8 L1602.1,1033.3 L1605.7,1036.3 L1609.3,1038.0 L1612.9,1036.8 L1616.5,1034.9 L1620.1,1034.3 L1623.6,1035.9 L1627.2,1038.2 L1630.8,1038.8 L1634.4,1037.9 L1638.0,1036.4 L1641.6,1035.0 L1645.3,1034.5"/><path d="M342.6,1033.7 L346.0,1033.7 L349.6,1033.7 L353.2,1033.7 L356.8,1033.7 L360.4,1033.6 L364.0,1033.6 L367.6,1033.6 L371.2,1033.6 L374.8,1033.5 L378.4,1033.5 L381.9,1033.5 L385.5,1033.5 L389.1,1033.4 L392.7,1033.4 L396.3,1033.3 L399.9,1033.2 L403.5,1033.2 L407.1,1033.1 L410.7,1033.0 L414.3,1032.8 L417.9,1032.6 L421.5,1032.4 L425.1,1032.6 L428.6,1033.2 L432.2,1033.9 L435.8,1034.6 L439.4,1034.9 L443.0,1034.5 L446.6,1033.6 L450.2,1032.6 L453.8,1032.1 L457.4,1031.8 L461.0,1031.5 L464.6,1031.3 L468.2,1031.0 L471.8,1030.8 L475.3,1030.5 L478.9,1030.2 L482.5,1029.9 L486.1,1029.6 L489.7,1029.3 L493.3,1028.9 L496.9,1028.5 L500.5,1028.0 L504.1,1027.5 L507.7,1026.8 L511.3,1025.9 L514.9,1024.9 L518.5,1023.8 L522.1,1022.4 L525.6,1020.2 L529.2,1017.8 L532.8,1015.6 L536.4,1013.2 L540.0,1012.0 L543.6,1013.1 L547.2,1015.2 L550.8,1017.1 L554.4,1018.9 L558.0,1019.7 L561.6,1019.9 L565.2,1019.9 L568.8,1018.7 L572.3,1017.0 L575.9,1015.2 L579.5,1013.0 L583.1,1010.8 L586.7,1009.5 L590.3,1008.8 L593.9,1007.8 L597.5,1005.3 L601.1,1000.6 L604.7,987.0 L608.3,972.5 L611.9,959.2 L615.5,946.9 L619.0,940.0 L622.6,946.6 L626.2,960.2 L629.8,973.7 L633.4,988.5 L637.0,997.4 L640.6,1004.2 L644.2,1008.8 L647.8,1010.3 L651.4,1010.8 L655.0,1011.2 L658.6,1012.1 L662.2,1013.8 L665.8,1015.6 L669.3,1016.9 L672.9,1017.3 L676.5,1017.5 L680.1,1017.6 L683.7,1017.8 L687.3,1017.9 L690.9,1017.9 L694.5,1017.9 L698.1,1017.8 L701.7,1017.6 L705.3,1017.3 L708.9,1017.0 L712.5,1016.7 L716.0,1016.3 L719.6,1015.8 L723.2,1015.3 L726.8,1014.6 L730.4,1013.6 L734.0,1012.4 L737.6,1010.8 L741.2,1008.4 L744.8,1005.7 L748.4,1002.9 L752.0,999.8 L755.6,996.1 L759.2,991.3 L762.7,985.4 L766.3,978.6 L769.9,970.6 L773.5,958.5 L777.1,940.0 L780.7,915.8 L784.3,887.3 L787.9,856.1 L791.5,816.7 L795.1,759.6 L798.7,696.3 L802.3,630.8 L805.9,566.8 L809.5,506.0 L813.0,492.5 L816.6,505.9 L820.2,559.7 L823.8,605.3 L827.4,650.0 L831.0,704.2 L834.6,758.3 L838.2,805.5 L841.8,845.6 L845.4,874.1 L849.0,891.1 L852.6,901.0 L856.2,906.7 L859.7,911.0 L863.3,914.4 L866.9,917.5 L870.5,921.1 L874.1,925.7 L877.7,931.2 L881.3,936.2 L884.9,939.8 L888.5,942.8 L892.1,944.8 L895.7,944.8 L899.3,943.5 L902.9,941.4 L906.4,938.5 L910.0,932.2 L913.6,921.7 L917.2,910.0 L920.8,895.7 L924.4,879.6 L928.0,863.3 L931.6,844.3 L935.2,815.7 L938.8,779.0 L942.4,741.0 L946.0,698.7 L949.6,646.2 L953.2,593.8 L956.7,555.8 L960.3,519.4 L963.9,464.9 L967.5,431.3 L969.6,428.0 L971.1,429.8 L974.7,445.4 L978.3,484.4 L981.9,524.2 L985.5,565.9 L989.1,620.5 L992.7,690.2 L996.3,723.5 L999.9,747.5 L1003.4,771.5 L1007.0,800.2 L1010.6,829.2 L1014.2,853.1 L1017.8,867.7 L1021.4,878.0 L1025.0,890.4 L1028.6,904.2 L1032.2,917.8 L1035.8,929.8 L1039.4,938.7 L1043.0,945.0 L1046.6,950.3 L1050.2,955.9 L1053.7,961.4 L1057.3,966.0 L1060.9,969.2 L1064.5,971.4 L1068.1,973.3 L1071.7,974.6 L1075.3,975.0 L1078.9,974.6 L1082.5,973.7 L1086.1,972.6 L1089.7,971.2 L1093.3,969.4 L1096.9,966.9 L1100.4,964.4 L1104.0,962.4 L1107.6,960.0 L1111.2,956.0 L1114.8,948.8 L1118.4,939.4 L1122.0,927.1 L1125.6,911.6 L1129.2,898.1 L1132.8,885.0 L1136.4,871.8 L1140.0,858.5 L1143.6,845.0 L1147.1,831.0 L1150.7,815.6 L1154.3,799.2 L1157.9,785.1 L1161.5,773.2 L1165.1,767.1 L1169.7,764.2 L1172.3,765.2 L1175.9,768.5 L1179.5,774.7 L1183.1,784.4 L1186.7,795.8 L1190.3,808.6 L1193.8,819.3 L1197.4,828.2 L1201.0,836.6 L1204.6,845.1 L1208.2,852.9 L1211.8,858.8 L1215.4,863.7 L1219.0,867.0 L1222.6,868.8 L1226.2,869.0 L1229.8,866.0 L1233.4,861.6 L1237.0,856.5 L1240.6,850.6 L1244.1,846.7 L1247.7,844.1 L1251.3,842.0 L1254.9,840.8 L1256.4,840.7 L1258.5,841.1 L1262.1,843.3 L1265.7,846.4 L1269.3,851.8 L1272.9,859.1 L1276.5,868.4 L1280.1,877.7 L1283.7,886.2 L1287.3,895.6 L1290.8,908.1 L1294.4,922.0 L1298.0,935.7 L1301.6,947.9 L1305.2,958.6 L1308.8,966.6 L1312.4,972.9 L1316.0,978.8 L1319.6,984.9 L1323.2,990.4 L1326.8,994.7 L1330.4,998.6 L1334.0,1002.0 L1337.6,1004.0 L1341.1,1004.1 L1344.7,1003.3 L1348.3,1003.0 L1351.9,1006.8 L1355.5,1012.0 L1359.1,1013.8 L1362.7,1014.0 L1366.3,1014.3 L1369.9,1016.8 L1373.5,1020.4 L1377.1,1023.4 L1380.7,1025.4 L1384.3,1025.4 L1387.8,1025.4 L1391.4,1025.4 L1395.0,1025.4 L1398.6,1026.1 L1402.2,1028.0 L1405.8,1028.1 L1409.4,1028.1 L1413.0,1028.1 L1416.6,1027.7 L1420.2,1027.1 L1423.8,1029.1 L1427.4,1030.5 L1431.0,1030.5 L1434.5,1030.4 L1438.1,1030.4 L1441.7,1031.1 L1445.3,1031.7 L1448.9,1029.5 L1452.5,1028.1 L1456.1,1027.6 L1459.7,1027.4 L1463.3,1027.3 L1466.9,1030.3 L1470.5,1031.4 L1474.1,1029.6 L1477.7,1029.2 L1481.2,1029.2 L1484.8,1025.7 L1488.4,1023.4 L1492.0,1025.2 L1495.6,1027.7 L1499.2,1030.7 L1502.8,1032.9 L1506.4,1034.2 L1510.0,1034.1 L1513.6,1033.5 L1517.2,1033.4 L1520.8,1034.0 L1524.4,1034.0 L1528.0,1031.9 L1531.5,1030.1 L1535.1,1030.6 L1538.7,1031.9 L1542.3,1033.0 L1545.9,1033.0 L1549.5,1032.4 L1553.1,1031.4 L1556.7,1028.9 L1560.3,1024.0 L1563.9,1021.8 L1567.5,1025.9 L1571.1,1029.8 L1574.7,1029.3 L1578.2,1028.7 L1581.8,1030.3 L1585.4,1033.8 L1589.0,1035.2 L1592.6,1034.6 L1596.2,1033.6 L1599.8,1032.8 L1603.4,1033.3 L1607.0,1036.3 L1610.6,1038.0 L1614.2,1036.8 L1617.8,1034.9 L1621.4,1034.3 L1625.0,1035.9 L1628.5,1038.2 L1632.1,1038.8 L1635.7,1037.9 L1639.3,1036.4 L1642.9,1035.0 L1646.7,1034.5"/></g>
<g stroke="#000080"><path d="M341.4,1031.7 L344.7,1031.7 L348.3,1031.7 L351.9,1031.7 L355.5,1031.6 L359.1,1031.6 L362.7,1031.6 L366.3,1031.6 L369.9,1031.6 L373.5,1031.5 L377.1,1031.5 L380.6,1031.5 L384.2,1031.5 L387.8,1031.4 L391.4,1031.4 L395.0,1031.4 L398.6,1031.4 L402.2,1031.3 L405.8,1031.3 L409.4,1031.2 L413.0,1031.0 L416.6,1030.6 L420.2,1030.4 L423.8,1030.6 L427.3,1031.3 L430.9,1032.2 L434.5,1033.0 L438.1,1033.3 L441.7,1032.9 L445.3,1031.9 L448.9,1031.0 L452.5,1030.8 L456.1,1031.1 L459.7,1031.4 L463.3,1031.8 L466.9,1032.0 L470.5,1031.9 L474.1,1031.7 L477.6,1031.4 L481.2,1030.9 L484.8,1030.4 L488.4,1029.9 L492.0,1029.4 L495.6,1029.0 L499.2,1028.6 L502.8,1028.3 L506.4,1028.0 L510.0,1027.7 L513.6,1027.4 L517.2,1027.1 L520.8,1026.8 L524.3,1026.5 L527.9,1026.3 L531.5,1026.0 L535.1,1025.9 L538.7,1025.7 L542.3,1025.6 L545.9,1025.5 L549.5,1025.5 L553.1,1025.4 L556.7,1025.4 L560.3,1025.3 L563.9,1025.3 L567.5,1025.2 L571.0,1025.1 L574.6,1024.9 L578.2,1024.6 L581.8,1024.2 L585.4,1023.5 L589.0,1022.8 L592.6,1021.9 L596.2,1021.0 L599.8,1020.0 L603.4,1019.0 L607.0,1017.2 L610.6,1015.1 L614.2,1013.3 L617.8,1012.5 L621.3,1013.6 L624.9,1016.1 L628.5,1018.4 L632.1,1019.6 L635.7,1020.1 L639.3,1020.5 L642.9,1021.0 L646.5,1021.6 L650.1,1022.2 L653.7,1022.7 L657.3,1023.1 L660.9,1023.5 L664.5,1023.9 L668.0,1024.2 L671.6,1024.3 L675.2,1024.2 L678.8,1023.8 L682.4,1023.3 L686.0,1022.7 L689.6,1022.2 L693.2,1021.9 L696.8,1021.6 L700.4,1021.3 L704.0,1021.0 L707.6,1020.6 L711.2,1020.2 L714.7,1019.4 L718.3,1018.2 L721.9,1016.6 L725.5,1014.8 L729.1,1012.8 L732.7,1010.4 L736.3,1007.7 L739.9,1005.0 L743.5,1002.3 L747.1,999.6 L750.7,996.6 L754.3,992.8 L757.9,987.7 L761.4,981.5 L765.0,973.9 L768.6,963.4 L772.2,948.0 L775.8,928.3 L779.4,903.0 L783.0,873.3 L786.6,836.9 L790.2,778.8 L793.8,717.4 L797.4,659.6 L801.0,590.0 L804.6,500.5 L808.2,452.0 L811.8,436.5 L815.3,451.9 L818.9,492.1 L822.5,567.7 L826.1,643.9 L829.7,694.9 L833.3,735.4 L836.9,790.9 L840.5,834.3 L844.1,851.2 L847.7,869.6 L851.3,886.2 L854.9,897.9 L858.4,906.7 L862.0,913.1 L865.6,918.7 L869.2,924.8 L872.8,931.0 L876.4,937.0 L880.0,943.2 L883.6,948.6 L887.2,951.6 L890.8,953.8 L894.4,955.0 L898.0,954.4 L901.6,952.5 L905.1,949.7 L908.7,946.1 L912.3,940.3 L915.9,932.6 L919.5,922.1 L923.1,908.0 L926.7,891.5 L930.3,871.6 L933.9,846.6 L937.5,808.7 L941.1,765.7 L944.7,711.4 L948.3,655.5 L951.9,604.2 L955.4,552.6 L959.0,503.5 L962.6,456.9 L966.2,418.1 L969.9,413.5 L973.4,427.7 L977.0,478.7 L980.6,524.0 L984.2,570.4 L987.8,621.3 L991.4,678.6 L995.0,731.4 L998.6,771.9 L1002.1,807.8 L1005.7,840.2 L1009.3,863.5 L1012.9,878.8 L1016.5,891.1 L1020.1,904.5 L1023.7,920.1 L1027.3,932.9 L1030.9,942.8 L1034.5,950.9 L1038.1,957.0 L1041.7,962.1 L1045.3,966.4 L1048.8,969.9 L1052.4,972.6 L1056.0,975.0 L1059.6,976.9 L1063.2,978.2 L1066.8,979.2 L1070.4,979.9 L1074.0,979.8 L1077.6,978.7 L1081.2,977.0 L1084.8,975.1 L1088.4,972.4 L1092.0,969.3 L1095.6,966.6 L1099.1,963.8 L1102.7,960.1 L1106.3,953.8 L1109.9,945.5 L1113.5,936.3 L1117.1,925.6 L1120.7,912.5 L1124.3,897.3 L1127.9,883.8 L1131.5,868.0 L1135.1,849.8 L1138.7,831.9 L1142.3,814.3 L1145.8,797.7 L1149.4,782.5 L1153.0,768.5 L1156.6,756.6 L1160.2,746.7 L1163.8,740.2 L1167.4,736.1 L1168.9,735.5 L1171.0,736.0 L1174.6,738.6 L1178.2,742.7 L1181.8,751.4 L1185.4,763.1 L1189.0,778.5 L1192.5,792.2 L1196.1,804.5 L1199.7,815.4 L1203.3,825.0 L1206.9,833.5 L1210.5,841.3 L1214.1,847.7 L1217.7,850.4 L1221.3,851.4 L1224.9,850.6 L1228.5,848.2 L1232.1,842.1 L1235.7,836.3 L1239.3,831.9 L1242.8,827.8 L1246.4,824.3 L1250.0,820.9 L1253.6,818.0 L1256.4,817.1 L1260.8,819.4 L1264.4,823.5 L1268.0,829.7 L1271.6,838.5 L1275.2,846.0 L1278.8,853.2 L1282.4,861.7 L1286.0,872.8 L1289.5,885.7 L1293.1,898.8 L1296.7,912.5 L1300.3,926.1 L1303.9,938.3 L1307.5,949.1 L1311.1,959.3 L1314.7,969.0 L1318.3,976.3 L1321.9,982.2 L1325.5,987.1 L1329.1,991.3 L1332.7,995.4 L1336.2,998.2 L1339.8,998.5 L1343.4,998.1 L1347.0,998.0 L1350.6,1001.7 L1354.2,1006.6 L1357.8,1007.9 L1361.4,1007.9 L1365.0,1007.9 L1368.6,1011.1 L1372.2,1015.2 L1375.8,1018.5 L1379.4,1020.4 L1383.0,1020.4 L1386.5,1020.4 L1390.1,1020.4 L1393.7,1020.4 L1397.3,1021.1 L1400.9,1023.1 L1404.5,1023.2 L1408.1,1023.2 L1411.7,1023.2 L1415.3,1022.9 L1418.9,1022.3 L1422.5,1024.5 L1426.1,1026.2 L1429.7,1026.4 L1433.2,1026.5 L1436.8,1026.7 L1440.4,1027.7 L1444.0,1028.5 L1447.6,1026.3 L1451.2,1025.4 L1454.8,1025.4 L1458.4,1025.4 L1462.0,1025.4 L1465.6,1028.7 L1469.2,1030.1 L1472.8,1028.7 L1476.4,1028.7 L1479.9,1029.0 L1483.5,1025.9 L1487.1,1023.8 L1490.7,1025.4 L1494.3,1027.8 L1497.9,1030.6 L1501.5,1032.6 L1505.1,1033.6 L1508.7,1033.4 L1512.3,1032.5 L1515.9,1032.4 L1519.5,1033.0 L1523.1,1033.0 L1526.7,1031.0 L1530.2,1029.3 L1533.8,1029.9 L1537.4,1031.8 L1541.0,1033.4 L1544.6,1033.4 L1548.2,1033.2 L1551.8,1032.7 L1555.4,1030.8 L1559.0,1026.4 L1562.6,1024.2 L1566.2,1028.2 L1569.8,1031.9 L1573.4,1031.2 L1576.9,1030.4 L1580.5,1031.9 L1584.1,1035.1 L1587.7,1036.4 L1591.3,1035.6 L1594.9,1034.4 L1598.5,1033.4 L1602.1,1033.8 L1605.7,1036.8 L1609.3,1038.5 L1612.9,1037.3 L1616.5,1035.4 L1620.1,1034.8 L1623.6,1036.4 L1627.2,1038.7 L1630.8,1039.3 L1634.4,1038.4 L1638.0,1036.9 L1641.6,1035.5 L1645.3,1035.0"/><path d="M342.6,1031.7 L346.0,1031.7 L349.6,1031.7 L353.2,1031.7 L356.8,1031.6 L360.4,1031.6 L364.0,1031.6 L367.6,1031.6 L371.2,1031.6 L374.8,1031.5 L378.4,1031.5 L381.9,1031.5 L385.5,1031.5 L389.1,1031.4 L392.7,1031.4 L396.3,1031.4 L399.9,1031.4 L403.5,1031.3 L407.1,1031.3 L410.7,1031.2 L414.3,1031.0 L417.9,1030.6 L421.5,1030.4 L425.1,1030.6 L428.6,1031.3 L432.2,1032.2 L435.8,1033.0 L439.4,1033.3 L443.0,1032.9 L446.6,1031.9 L450.2,1031.0 L453.8,1030.8 L457.4,1031.1 L461.0,1031.4 L464.6,1031.8 L468.2,1032.0 L471.8,1031.9 L475.3,1031.7 L478.9,1031.4 L482.5,1030.9 L486.1,1030.4 L489.7,1029.9 L493.3,1029.4 L496.9,1029.0 L500.5,1028.6 L504.1,1028.3 L507.7,1028.0 L511.3,1027.7 L514.9,1027.4 L518.5,1027.1 L522.1,1026.8 L525.6,1026.5 L529.2,1026.3 L532.8,1026.0 L536.4,1025.9 L540.0,1025.7 L543.6,1025.6 L547.2,1025.5 L550.8,1025.5 L554.4,1025.4 L558.0,1025.4 L561.6,1025.3 L565.2,1025.3 L568.8,1025.2 L572.3,1025.1 L575.9,1024.9 L579.5,1024.6 L583.1,1024.2 L586.7,1023.5 L590.3,1022.8 L593.9,1021.9 L597.5,1021.0 L601.1,1020.0 L604.7,1019.0 L608.3,1017.2 L611.9,1015.1 L615.5,1013.3 L619.0,1012.5 L622.6,1013.6 L626.2,1016.1 L629.8,1018.4 L633.4,1019.6 L637.0,1020.1 L640.6,1020.5 L644.2,1021.0 L647.8,1021.6 L651.4,1022.2 L655.0,1022.7 L658.6,1023.1 L662.2,1023.5 L665.8,1023.9 L669.3,1024.2 L672.9,1024.3 L676.5,1024.2 L680.1,1023.8 L683.7,1023.3 L687.3,1022.7 L690.9,1022.2 L694.5,1021.9 L698.1,1021.6 L701.7,1021.3 L705.3,1021.0 L708.9,1020.6 L712.5,1020.2 L716.0,1019.4 L719.6,1018.2 L723.2,1016.6 L726.8,1014.8 L730.4,1012.8 L734.0,1010.4 L737.6,1007.7 L741.2,1005.0 L744.8,1002.3 L748.4,999.6 L752.0,996.6 L755.6,992.8 L759.2,987.7 L762.7,981.5 L766.3,973.9 L769.9,963.4 L773.5,948.0 L777.1,928.3 L780.7,903.0 L784.3,873.3 L787.9,836.9 L791.5,778.8 L795.1,717.4 L798.7,659.6 L802.3,590.0 L805.9,500.5 L809.5,452.0 L813.0,436.5 L816.6,451.9 L820.2,492.1 L823.8,567.7 L827.4,643.9 L831.0,694.9 L834.6,735.4 L838.2,790.9 L841.8,834.3 L845.4,851.2 L849.0,869.6 L852.6,886.2 L856.2,897.9 L859.7,906.7 L863.3,913.1 L866.9,918.7 L870.5,924.8 L874.1,931.0 L877.7,937.0 L881.3,943.2 L884.9,948.6 L888.5,951.6 L892.1,953.8 L895.7,955.0 L899.3,954.4 L902.9,952.5 L906.4,949.7 L910.0,946.1 L913.6,940.3 L917.2,932.6 L920.8,922.1 L924.4,908.0 L928.0,891.5 L931.6,871.6 L935.2,846.6 L938.8,808.7 L942.4,765.7 L946.0,711.4 L949.6,655.5 L953.2,604.2 L956.7,552.6 L960.3,503.5 L963.9,456.9 L967.5,418.1 L971.1,413.5 L974.7,427.7 L978.3,478.7 L981.9,524.0 L985.5,570.4 L989.1,621.3 L992.7,678.6 L996.3,731.4 L999.9,771.9 L1003.4,807.8 L1007.0,840.2 L1010.6,863.5 L1014.2,878.8 L1017.8,891.1 L1021.4,904.5 L1025.0,920.1 L1028.6,932.9 L1032.2,942.8 L1035.8,950.9 L1039.4,957.0 L1043.0,962.1 L1046.6,966.4 L1050.2,969.9 L1053.7,972.6 L1057.3,975.0 L1060.9,976.9 L1064.5,978.2 L1068.1,979.2 L1071.7,979.9 L1075.3,979.8 L1078.9,978.7 L1082.5,977.0 L1086.1,975.1 L1089.7,972.4 L1093.3,969.3 L1096.9,966.6 L1100.4,963.8 L1104.0,960.1 L1107.6,953.8 L1111.2,945.5 L1114.8,936.3 L1118.4,925.6 L1122.0,912.5 L1125.6,897.3 L1129.2,883.8 L1132.8,868.0 L1136.4,849.8 L1140.0,831.9 L1143.6,814.3 L1147.1,797.7 L1150.7,782.5 L1154.3,768.5 L1157.9,756.6 L1161.5,746.7 L1165.1,740.2 L1168.7,736.1 L1170.2,735.5 L1172.3,736.0 L1175.9,738.6 L1179.5,742.7 L1183.1,751.4 L1186.7,763.1 L1190.3,778.5 L1193.8,792.2 L1197.4,804.5 L1201.0,815.4 L1204.6,825.0 L1208.2,833.5 L1211.8,841.3 L1215.4,847.7 L1219.0,850.4 L1222.6,851.4 L1226.2,850.6 L1229.8,848.2 L1233.4,842.1 L1237.0,836.3 L1240.6,831.9 L1244.1,827.8 L1247.7,824.3 L1251.3,820.9 L1254.9,818.0 L1257.8,817.1 L1262.1,819.4 L1265.7,823.5 L1269.3,829.7 L1272.9,838.5 L1276.5,846.0 L1280.1,853.2 L1283.7,861.7 L1287.3,872.8 L1290.8,885.7 L1294.4,898.8 L1298.0,912.5 L1301.6,926.1 L1305.2,938.3 L1308.8,949.1 L1312.4,959.3 L1316.0,969.0 L1319.6,976.3 L1323.2,982.2 L1326.8,987.1 L1330.4,991.3 L1334.0,995.4 L1337.6,998.2 L1341.1,998.5 L1344.7,998.1 L1348.3,998.0 L1351.9,1001.7 L1355.5,1006.6 L1359.1,1007.9 L1362.7,1007.9 L1366.3,1007.9 L1369.9,1011.1 L1373.5,1015.2 L1377.1,1018.5 L1380.7,1020.4 L1384.3,1020.4 L1387.8,1020.4 L1391.4,1020.4 L1395.0,1020.4 L1398.6,1021.1 L1402.2,1023.1 L1405.8,1023.2 L1409.4,1023.2 L1413.0,1023.2 L1416.6,1022.9 L1420.2,1022.3 L1423.8,1024.5 L1427.4,1026.2 L1431.0,1026.4 L1434.5,1026.5 L1438.1,1026.7 L1441.7,1027.7 L1445.3,1028.5 L1448.9,1026.3 L1452.5,1025.4 L1456.1,1025.4 L1459.7,1025.4 L1463.3,1025.4 L1466.9,1028.7 L1470.5,1030.1 L1474.1,1028.7 L1477.7,1028.7 L1481.2,1029.0 L1484.8,1025.9 L1488.4,1023.8 L1492.0,1025.4 L1495.6,1027.8 L1499.2,1030.6 L1502.8,1032.6 L1506.4,1033.6 L1510.0,1033.4 L1513.6,1032.5 L1517.2,1032.4 L1520.8,1033.0 L1524.4,1033.0 L1528.0,1031.0 L1531.5,1029.3 L1535.1,1029.9 L1538.7,1031.8 L1542.3,1033.4 L1545.9,1033.4 L1549.5,1033.2 L1553.1,1032.7 L1556.7,1030.8 L1560.3,1026.4 L1563.9,1024.2 L1567.5,1028.2 L1571.1,1031.9 L1574.7,1031.2 L1578.2,1030.4 L1581.8,1031.9 L1585.4,1035.1 L1589.0,1036.4 L1592.6,1035.6 L1596.2,1034.4 L1599.8,1033.4 L1603.4,1033.8 L1607.0,1036.8 L1610.6,1038.5 L1614.2,1037.3 L1617.8,1035.4 L1621.4,1034.8 L1625.0,1036.4 L1628.5,1038.7 L1632.1,1039.3 L1635.7,1038.4 L1639.3,1036.9 L1642.9,1035.5 L1646.7,1035.0"/></g>
</g>
<g>
<line x1="616" y1="56.0" x2="616" y2="102.0" stroke="#000" stroke-width="6" stroke-linecap="round"/><polygon points="609.2,102.5 622.0,102.5 616.4,127.5 615.6,127.5" fill="#000" stroke="#000" stroke-width="5" stroke-linejoin="round"/>
<line x1="539.6" y1="844.0" x2="539.6" y2="890.0" stroke="#000" stroke-width="6" stroke-linecap="round"/><polygon points="532.8,890.5 545.6,890.5 540.0,915.5 539.2,915.5" fill="#000" stroke="#000" stroke-width="5" stroke-linejoin="round"/>
<line x1="812.1" y1="409.0" x2="812.1" y2="364.0" stroke="#000" stroke-width="6" stroke-linecap="round"/><polygon points="805.3,363.5 818.1,363.5 812.5,338.5 811.7,338.5" fill="#000" stroke="#000" stroke-width="5" stroke-linejoin="round"/>
<line x1="968" y1="386.0" x2="968" y2="339.7" stroke="#000" stroke-width="6" stroke-linecap="round"/><polygon points="961.2,339.2 974.0,339.2 968.4,314.2 967.6,314.2" fill="#000" stroke="#000" stroke-width="5" stroke-linejoin="round"/>
<line x1="1010.3" y1="384.0" x2="1010.3" y2="430.3" stroke="#000" stroke-width="6" stroke-linecap="round"/><polygon points="1003.5,430.8 1016.3,430.8 1010.7,455.8 1009.9,455.8" fill="#000" stroke="#000" stroke-width="5" stroke-linejoin="round"/>
<line x1="965.7" y1="564.4" x2="965.7" y2="608.4" stroke="#000" stroke-width="6" stroke-linecap="round"/><polygon points="958.9,608.9 971.7,608.9 966.1,633.9 965.3,633.9" fill="#000" stroke="#000" stroke-width="5" stroke-linejoin="round"/>
<line x1="1168.1" y1="699.6" x2="1168.1" y2="654.0" stroke="#000" stroke-width="6" stroke-linecap="round"/><polygon points="1161.3,653.5 1174.1,653.5 1168.5,628.5 1167.7,628.5" fill="#000" stroke="#000" stroke-width="5" stroke-linejoin="round"/>
<line x1="1256.9" y1="787.7" x2="1256.9" y2="742.0" stroke="#000" stroke-width="6" stroke-linecap="round"/><polygon points="1250.1,741.5 1262.9,741.5 1257.3,716.5 1256.5,716.5" fill="#000" stroke="#000" stroke-width="5" stroke-linejoin="round"/>
</g>
<g font-size="80">
<text transform="translate(309.0,222.0) scale(0.95,1)" text-anchor="end">0.15</text>
<text transform="translate(309.0,503.0) scale(0.95,1)" text-anchor="end">0.10</text>
<text transform="translate(309.0,781.2) scale(0.95,1)" text-anchor="end">0.05</text>
<text transform="translate(309.0,1059.8) scale(0.95,1)" text-anchor="end">0.00</text>
<text transform="translate(341.0,1148.0) scale(0.967,1)" text-anchor="middle">2100</text>
<text transform="translate(713.4,1148.0) scale(0.967,1)" text-anchor="middle">2000</text>
<text transform="translate(1085.9,1148.0) scale(0.967,1)" text-anchor="middle">1900</text>
<text transform="translate(1458.3,1148.0) scale(0.967,1)" text-anchor="middle">1800</text>
<text transform="translate(82.1,561.2) rotate(-90) scale(0.979,1)" text-anchor="middle">Absorbance</text>
<text class="nu" font-size="72" transform="translate(870.3,1251.7) scale(1.11,1)">ν</text>
<text y="1251.7"><tspan x="929.5" font-size="78">/</tspan><tspan x="972.5"> </tspan><tspan x="972.6" font-size="77" textLength="105.2" lengthAdjust="spacingAndGlyphs">cm</tspan><tspan x="1075.5" y="1210" font-size="45.5">-1</tspan></text>
</g>
</svg>
</body></html>
